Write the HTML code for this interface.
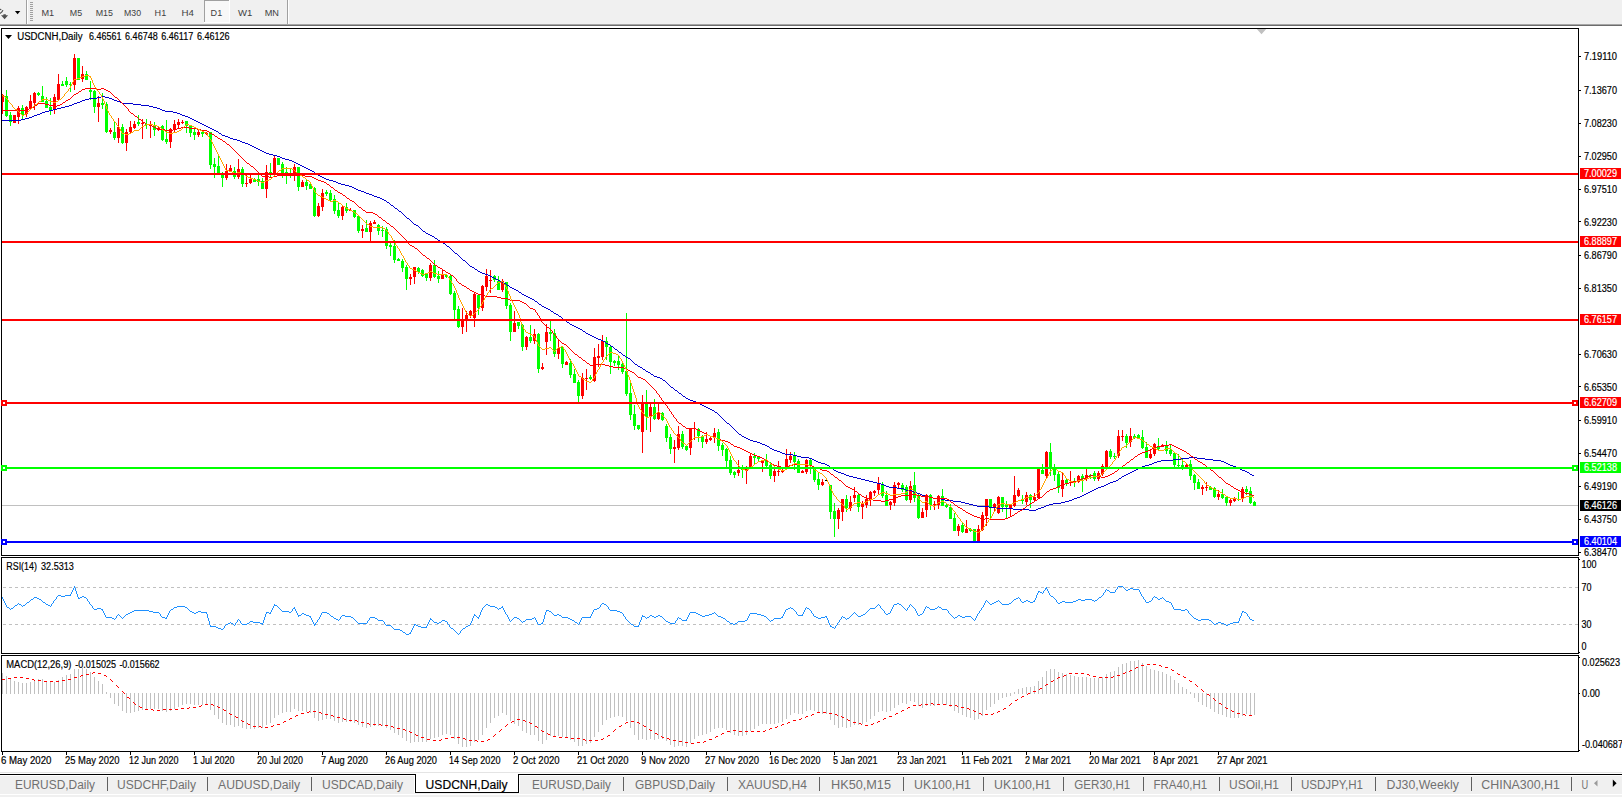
<!DOCTYPE html>
<html><head><meta charset="utf-8"><title>USDCNH,Daily</title>
<style>html,body{margin:0;padding:0;background:#fff;overflow:hidden}svg{display:block}text{font-family:"Liberation Sans",sans-serif}</style>
</head><body>
<svg width="1622" height="797" viewBox="0 0 1622 797">
<rect x="0" y="0" width="1622" height="797" fill="#ffffff" />
<rect x="0" y="0" width="1622" height="24" fill="#f0f0f0" />
<rect x="0" y="24" width="1622" height="1" fill="#a6a6a6" />
<rect x="0" y="25" width="1622" height="1" fill="#6c6c6c" />
<path d="M0 9.4 L1.3 9.7 M2.9 10.2 Q2.4 12.2 0 13.5" stroke="#505050" stroke-width="1.2" fill="none"/>
<path d="M1 15.3 L3.4 15.3 L3.4 14.2 L5.8 14.2 L5.8 15.3 L8.1 15.3 L4.6 19.3 Z" fill="#505050"/>
<path d="M14.9 11 L20.3 11 L17.6 14.2 Z" fill="#000"/>
<rect x="26" y="0" width="1" height="24" fill="#a0a0a0" />
<rect x="27" y="0" width="1" height="24" fill="#ffffff" />
<rect x="30" y="2" width="3" height="1" fill="#a0a0a0" />
<rect x="30" y="4" width="3" height="1" fill="#a0a0a0" />
<rect x="30" y="6" width="3" height="1" fill="#a0a0a0" />
<rect x="30" y="8" width="3" height="1" fill="#a0a0a0" />
<rect x="30" y="10" width="3" height="1" fill="#a0a0a0" />
<rect x="30" y="12" width="3" height="1" fill="#a0a0a0" />
<rect x="30" y="14" width="3" height="1" fill="#a0a0a0" />
<rect x="30" y="16" width="3" height="1" fill="#a0a0a0" />
<rect x="30" y="18" width="3" height="1" fill="#a0a0a0" />
<rect x="30" y="20" width="3" height="1" fill="#a0a0a0" />
<rect x="205" y="1" width="24" height="21" fill="#f8f8f8" />
<rect x="204" y="0" width="25" height="1" fill="#a0a0a0" />
<rect x="204" y="0" width="1" height="22" fill="#a0a0a0" />
<rect x="229" y="0" width="1" height="23" fill="#ffffff" />
<rect x="204" y="22" width="26" height="1" fill="#ffffff" />
<text x="41.4" y="15.9" font-size="9.3" fill="#404040" text-anchor="start" textLength="12.7" lengthAdjust="spacingAndGlyphs" >M1</text>
<text x="69.8" y="15.9" font-size="9.3" fill="#404040" text-anchor="start" textLength="12.3" lengthAdjust="spacingAndGlyphs" >M5</text>
<text x="95.7" y="15.9" font-size="9.3" fill="#404040" text-anchor="start" textLength="17.3" lengthAdjust="spacingAndGlyphs" >M15</text>
<text x="124" y="15.9" font-size="9.3" fill="#404040" text-anchor="start" textLength="17" lengthAdjust="spacingAndGlyphs" >M30</text>
<text x="154.6" y="15.9" font-size="9.3" fill="#404040" text-anchor="start" textLength="11.6" lengthAdjust="spacingAndGlyphs" >H1</text>
<text x="181.5" y="15.9" font-size="9.3" fill="#404040" text-anchor="start" textLength="12.4" lengthAdjust="spacingAndGlyphs" >H4</text>
<text x="210.6" y="15.9" font-size="9.3" fill="#404040" text-anchor="start" textLength="11.6" lengthAdjust="spacingAndGlyphs" >D1</text>
<text x="237.9" y="15.9" font-size="9.3" fill="#404040" text-anchor="start" textLength="14.3" lengthAdjust="spacingAndGlyphs" >W1</text>
<text x="264.7" y="15.9" font-size="9.3" fill="#404040" text-anchor="start" textLength="14.3" lengthAdjust="spacingAndGlyphs" >MN</text>
<rect x="287" y="0" width="1" height="24" fill="#a0a0a0" />
<rect x="288" y="0" width="1" height="24" fill="#ffffff" />
<rect x="1" y="28" width="1578" height="1" fill="#000" />
<rect x="1" y="555" width="1578" height="1" fill="#000" />
<rect x="1" y="28" width="1" height="528" fill="#000" />
<rect x="1578" y="28" width="1" height="528" fill="#000" />
<rect x="1" y="557" width="1578" height="1" fill="#000" />
<rect x="1" y="653" width="1578" height="1" fill="#000" />
<rect x="1" y="557" width="1" height="97" fill="#000" />
<rect x="1578" y="557" width="1" height="97" fill="#000" />
<rect x="1" y="655" width="1578" height="1" fill="#000" />
<rect x="1" y="751" width="1578" height="1" fill="#000" />
<rect x="1" y="655" width="1" height="97" fill="#000" />
<rect x="1578" y="655" width="1" height="97" fill="#000" />
<rect x="2" y="505" width="1576" height="1" fill="#c0c0c0" />
<clipPath id="cp"><rect x="2" y="29" width="1576" height="526"/></clipPath>
<g clip-path="url(#cp)" shape-rendering="crispEdges">
<rect x="2" y="94" width="1" height="20" fill="#ff0000" />
<rect x="1" y="95" width="3" height="7" fill="#ff0000" />
<rect x="6" y="90" width="1" height="27" fill="#00ff00" />
<rect x="5" y="96" width="3" height="20" fill="#00ff00" />
<rect x="10" y="112" width="1" height="14" fill="#00ff00" />
<rect x="9" y="115" width="3" height="7" fill="#00ff00" />
<rect x="14" y="115" width="1" height="8" fill="#ff0000" />
<rect x="13" y="115" width="3" height="8" fill="#ff0000" />
<rect x="18" y="106" width="1" height="18" fill="#ff0000" />
<rect x="17" y="108" width="3" height="9" fill="#ff0000" />
<rect x="22" y="105" width="1" height="15" fill="#00ff00" />
<rect x="21" y="108" width="3" height="7" fill="#00ff00" />
<rect x="26" y="106" width="1" height="11" fill="#ff0000" />
<rect x="25" y="107" width="3" height="7" fill="#ff0000" />
<rect x="30" y="95" width="1" height="14" fill="#ff0000" />
<rect x="29" y="101" width="3" height="7" fill="#ff0000" />
<rect x="34" y="92" width="1" height="18" fill="#ff0000" />
<rect x="33" y="93" width="3" height="10" fill="#ff0000" />
<rect x="38" y="92" width="1" height="4" fill="#00ff00" />
<rect x="37" y="93" width="3" height="2" fill="#00ff00" />
<rect x="42" y="86" width="1" height="16" fill="#00ff00" />
<rect x="41" y="96" width="3" height="6" fill="#00ff00" />
<rect x="46" y="97" width="1" height="11" fill="#00ff00" />
<rect x="45" y="101" width="3" height="7" fill="#00ff00" />
<rect x="50" y="98" width="1" height="17" fill="#00ff00" />
<rect x="49" y="107" width="3" height="4" fill="#00ff00" />
<rect x="54" y="94" width="1" height="20" fill="#ff0000" />
<rect x="53" y="97" width="3" height="13" fill="#ff0000" />
<rect x="58" y="74" width="1" height="26" fill="#ff0000" />
<rect x="57" y="84" width="3" height="16" fill="#ff0000" />
<rect x="62" y="81" width="1" height="5" fill="#00ff00" />
<rect x="61" y="84" width="3" height="2" fill="#00ff00" />
<rect x="66" y="77" width="1" height="10" fill="#00ff00" />
<rect x="65" y="81" width="3" height="4" fill="#00ff00" />
<rect x="70" y="82" width="1" height="10" fill="#00ff00" />
<rect x="69" y="84" width="3" height="1" fill="#00ff00" />
<rect x="74" y="54" width="1" height="36" fill="#ff0000" />
<rect x="73" y="58" width="3" height="27" fill="#ff0000" />
<rect x="78" y="58" width="1" height="22" fill="#00ff00" />
<rect x="77" y="58" width="3" height="22" fill="#00ff00" />
<rect x="82" y="66" width="1" height="16" fill="#ff0000" />
<rect x="81" y="74" width="3" height="5" fill="#ff0000" />
<rect x="86" y="71" width="1" height="9" fill="#00ff00" />
<rect x="85" y="74" width="3" height="6" fill="#00ff00" />
<rect x="90" y="81" width="1" height="19" fill="#00ff00" />
<rect x="89" y="90" width="3" height="2" fill="#00ff00" />
<rect x="94" y="90" width="1" height="23" fill="#00ff00" />
<rect x="93" y="91" width="3" height="16" fill="#00ff00" />
<rect x="98" y="96" width="1" height="26" fill="#ff0000" />
<rect x="97" y="103" width="3" height="4" fill="#ff0000" />
<rect x="102" y="93" width="1" height="16" fill="#00ff00" />
<rect x="101" y="103" width="3" height="2" fill="#00ff00" />
<rect x="106" y="102" width="1" height="31" fill="#00ff00" />
<rect x="105" y="104" width="3" height="28" fill="#00ff00" />
<rect x="110" y="128" width="1" height="6" fill="#ff0000" />
<rect x="109" y="130" width="3" height="2" fill="#ff0000" />
<rect x="114" y="122" width="1" height="18" fill="#00ff00" />
<rect x="113" y="132" width="3" height="6" fill="#00ff00" />
<rect x="118" y="118" width="1" height="25" fill="#ff0000" />
<rect x="117" y="127" width="3" height="11" fill="#ff0000" />
<rect x="122" y="124" width="1" height="20" fill="#00ff00" />
<rect x="121" y="127" width="3" height="16" fill="#00ff00" />
<rect x="126" y="129" width="1" height="22" fill="#ff0000" />
<rect x="125" y="132" width="3" height="11" fill="#ff0000" />
<rect x="130" y="121" width="1" height="12" fill="#ff0000" />
<rect x="129" y="127" width="3" height="5" fill="#ff0000" />
<rect x="134" y="121" width="1" height="8" fill="#ff0000" />
<rect x="133" y="124" width="3" height="4" fill="#ff0000" />
<rect x="138" y="115" width="1" height="11" fill="#00ff00" />
<rect x="137" y="122" width="3" height="2" fill="#00ff00" />
<rect x="142" y="119" width="1" height="20" fill="#ff0000" />
<rect x="141" y="123" width="3" height="1" fill="#ff0000" />
<rect x="146" y="119" width="1" height="10" fill="#00ff00" />
<rect x="145" y="124" width="3" height="1" fill="#00ff00" />
<rect x="150" y="121" width="1" height="17" fill="#ff0000" />
<rect x="149" y="125" width="3" height="1" fill="#ff0000" />
<rect x="154" y="122" width="1" height="14" fill="#00ff00" />
<rect x="153" y="125" width="3" height="5" fill="#00ff00" />
<rect x="158" y="127" width="1" height="4" fill="#ff0000" />
<rect x="157" y="128" width="3" height="2" fill="#ff0000" />
<rect x="162" y="125" width="1" height="16" fill="#00ff00" />
<rect x="161" y="126" width="3" height="14" fill="#00ff00" />
<rect x="166" y="120" width="1" height="24" fill="#00ff00" />
<rect x="165" y="139" width="3" height="3" fill="#00ff00" />
<rect x="170" y="128" width="1" height="20" fill="#ff0000" />
<rect x="169" y="129" width="3" height="13" fill="#ff0000" />
<rect x="174" y="120" width="1" height="12" fill="#ff0000" />
<rect x="173" y="124" width="3" height="6" fill="#ff0000" />
<rect x="178" y="119" width="1" height="9" fill="#ff0000" />
<rect x="177" y="122" width="3" height="3" fill="#ff0000" />
<rect x="182" y="120" width="1" height="4" fill="#ff0000" />
<rect x="181" y="122" width="3" height="1" fill="#ff0000" />
<rect x="186" y="121" width="1" height="12" fill="#00ff00" />
<rect x="185" y="121" width="3" height="5" fill="#00ff00" />
<rect x="190" y="126" width="1" height="11" fill="#00ff00" />
<rect x="189" y="126" width="3" height="7" fill="#00ff00" />
<rect x="194" y="129" width="1" height="11" fill="#00ff00" />
<rect x="193" y="132" width="3" height="3" fill="#00ff00" />
<rect x="198" y="130" width="1" height="7" fill="#ff0000" />
<rect x="197" y="132" width="3" height="3" fill="#ff0000" />
<rect x="202" y="130" width="1" height="7" fill="#00ff00" />
<rect x="201" y="132" width="3" height="2" fill="#00ff00" />
<rect x="206" y="132" width="1" height="3" fill="#ff0000" />
<rect x="205" y="133" width="3" height="1" fill="#ff0000" />
<rect x="210" y="132" width="1" height="37" fill="#00ff00" />
<rect x="209" y="132" width="3" height="33" fill="#00ff00" />
<rect x="214" y="158" width="1" height="20" fill="#00ff00" />
<rect x="213" y="164" width="3" height="3" fill="#00ff00" />
<rect x="218" y="156" width="1" height="19" fill="#00ff00" />
<rect x="217" y="166" width="3" height="7" fill="#00ff00" />
<rect x="222" y="172" width="1" height="15" fill="#00ff00" />
<rect x="221" y="175" width="3" height="3" fill="#00ff00" />
<rect x="226" y="164" width="1" height="16" fill="#ff0000" />
<rect x="225" y="171" width="3" height="7" fill="#ff0000" />
<rect x="230" y="165" width="1" height="7" fill="#ff0000" />
<rect x="229" y="168" width="3" height="3" fill="#ff0000" />
<rect x="234" y="167" width="1" height="12" fill="#00ff00" />
<rect x="233" y="171" width="3" height="6" fill="#00ff00" />
<rect x="238" y="159" width="1" height="20" fill="#ff0000" />
<rect x="237" y="169" width="3" height="8" fill="#ff0000" />
<rect x="242" y="167" width="1" height="20" fill="#00ff00" />
<rect x="241" y="169" width="3" height="15" fill="#00ff00" />
<rect x="246" y="175" width="1" height="12" fill="#ff0000" />
<rect x="245" y="183" width="3" height="1" fill="#ff0000" />
<rect x="250" y="175" width="1" height="9" fill="#ff0000" />
<rect x="249" y="179" width="3" height="4" fill="#ff0000" />
<rect x="254" y="178" width="1" height="4" fill="#00ff00" />
<rect x="253" y="180" width="3" height="2" fill="#00ff00" />
<rect x="258" y="175" width="1" height="11" fill="#00ff00" />
<rect x="257" y="179" width="3" height="3" fill="#00ff00" />
<rect x="262" y="178" width="1" height="11" fill="#00ff00" />
<rect x="261" y="181" width="3" height="8" fill="#00ff00" />
<rect x="266" y="165" width="1" height="33" fill="#ff0000" />
<rect x="265" y="172" width="3" height="17" fill="#ff0000" />
<rect x="270" y="163" width="1" height="15" fill="#00ff00" />
<rect x="269" y="172" width="3" height="3" fill="#00ff00" />
<rect x="274" y="156" width="1" height="19" fill="#ff0000" />
<rect x="273" y="158" width="3" height="15" fill="#ff0000" />
<rect x="278" y="158" width="1" height="7" fill="#00ff00" />
<rect x="277" y="158" width="3" height="7" fill="#00ff00" />
<rect x="282" y="162" width="1" height="16" fill="#00ff00" />
<rect x="281" y="164" width="3" height="9" fill="#00ff00" />
<rect x="286" y="167" width="1" height="17" fill="#00ff00" />
<rect x="285" y="172" width="3" height="2" fill="#00ff00" />
<rect x="290" y="169" width="1" height="9" fill="#00ff00" />
<rect x="289" y="173" width="3" height="2" fill="#00ff00" />
<rect x="294" y="164" width="1" height="17" fill="#ff0000" />
<rect x="293" y="167" width="3" height="6" fill="#ff0000" />
<rect x="298" y="167" width="1" height="24" fill="#00ff00" />
<rect x="297" y="167" width="3" height="20" fill="#00ff00" />
<rect x="302" y="180" width="1" height="7" fill="#ff0000" />
<rect x="301" y="182" width="3" height="5" fill="#ff0000" />
<rect x="306" y="179" width="1" height="11" fill="#00ff00" />
<rect x="305" y="182" width="3" height="4" fill="#00ff00" />
<rect x="310" y="183" width="1" height="6" fill="#00ff00" />
<rect x="309" y="184" width="3" height="5" fill="#00ff00" />
<rect x="314" y="187" width="1" height="30" fill="#00ff00" />
<rect x="313" y="188" width="3" height="28" fill="#00ff00" />
<rect x="318" y="203" width="1" height="14" fill="#ff0000" />
<rect x="317" y="206" width="3" height="10" fill="#ff0000" />
<rect x="322" y="189" width="1" height="22" fill="#ff0000" />
<rect x="321" y="193" width="3" height="14" fill="#ff0000" />
<rect x="326" y="190" width="1" height="6" fill="#00ff00" />
<rect x="325" y="192" width="3" height="2" fill="#00ff00" />
<rect x="330" y="190" width="1" height="11" fill="#00ff00" />
<rect x="329" y="193" width="3" height="7" fill="#00ff00" />
<rect x="334" y="195" width="1" height="19" fill="#00ff00" />
<rect x="333" y="199" width="3" height="12" fill="#00ff00" />
<rect x="338" y="203" width="1" height="15" fill="#00ff00" />
<rect x="337" y="210" width="3" height="6" fill="#00ff00" />
<rect x="342" y="206" width="1" height="14" fill="#ff0000" />
<rect x="341" y="207" width="3" height="9" fill="#ff0000" />
<rect x="346" y="203" width="1" height="10" fill="#00ff00" />
<rect x="345" y="207" width="3" height="4" fill="#00ff00" />
<rect x="350" y="208" width="1" height="3" fill="#ff0000" />
<rect x="349" y="210" width="3" height="1" fill="#ff0000" />
<rect x="354" y="210" width="1" height="8" fill="#00ff00" />
<rect x="353" y="210" width="3" height="7" fill="#00ff00" />
<rect x="358" y="216" width="1" height="17" fill="#00ff00" />
<rect x="357" y="216" width="3" height="15" fill="#00ff00" />
<rect x="362" y="225" width="1" height="13" fill="#ff0000" />
<rect x="361" y="229" width="3" height="2" fill="#ff0000" />
<rect x="366" y="220" width="1" height="12" fill="#00ff00" />
<rect x="365" y="228" width="3" height="4" fill="#00ff00" />
<rect x="370" y="221" width="1" height="21" fill="#ff0000" />
<rect x="369" y="223" width="3" height="9" fill="#ff0000" />
<rect x="374" y="220" width="1" height="4" fill="#ff0000" />
<rect x="373" y="222" width="3" height="2" fill="#ff0000" />
<rect x="378" y="224" width="1" height="11" fill="#00ff00" />
<rect x="377" y="225" width="3" height="6" fill="#00ff00" />
<rect x="382" y="226" width="1" height="11" fill="#00ff00" />
<rect x="381" y="230" width="3" height="1" fill="#00ff00" />
<rect x="386" y="227" width="1" height="22" fill="#00ff00" />
<rect x="385" y="229" width="3" height="17" fill="#00ff00" />
<rect x="390" y="243" width="1" height="13" fill="#00ff00" />
<rect x="389" y="245" width="3" height="2" fill="#00ff00" />
<rect x="394" y="240" width="1" height="23" fill="#00ff00" />
<rect x="393" y="246" width="3" height="14" fill="#00ff00" />
<rect x="398" y="258" width="1" height="3" fill="#00ff00" />
<rect x="397" y="259" width="3" height="2" fill="#00ff00" />
<rect x="402" y="259" width="1" height="13" fill="#00ff00" />
<rect x="401" y="261" width="3" height="7" fill="#00ff00" />
<rect x="406" y="265" width="1" height="25" fill="#00ff00" />
<rect x="405" y="267" width="3" height="12" fill="#00ff00" />
<rect x="410" y="274" width="1" height="11" fill="#ff0000" />
<rect x="409" y="277" width="3" height="2" fill="#ff0000" />
<rect x="414" y="267" width="1" height="17" fill="#ff0000" />
<rect x="413" y="267" width="3" height="10" fill="#ff0000" />
<rect x="418" y="267" width="1" height="7" fill="#00ff00" />
<rect x="417" y="268" width="3" height="4" fill="#00ff00" />
<rect x="422" y="269" width="1" height="8" fill="#00ff00" />
<rect x="421" y="270" width="3" height="6" fill="#00ff00" />
<rect x="426" y="273" width="1" height="8" fill="#00ff00" />
<rect x="425" y="274" width="3" height="4" fill="#00ff00" />
<rect x="430" y="263" width="1" height="18" fill="#ff0000" />
<rect x="429" y="265" width="3" height="13" fill="#ff0000" />
<rect x="434" y="260" width="1" height="18" fill="#00ff00" />
<rect x="433" y="265" width="3" height="12" fill="#00ff00" />
<rect x="438" y="271" width="1" height="12" fill="#00ff00" />
<rect x="437" y="276" width="3" height="3" fill="#00ff00" />
<rect x="442" y="269" width="1" height="10" fill="#ff0000" />
<rect x="441" y="275" width="3" height="4" fill="#ff0000" />
<rect x="446" y="275" width="1" height="3" fill="#00ff00" />
<rect x="445" y="275" width="3" height="2" fill="#00ff00" />
<rect x="450" y="275" width="1" height="20" fill="#00ff00" />
<rect x="449" y="276" width="3" height="18" fill="#00ff00" />
<rect x="454" y="291" width="1" height="29" fill="#00ff00" />
<rect x="453" y="293" width="3" height="17" fill="#00ff00" />
<rect x="458" y="306" width="1" height="22" fill="#00ff00" />
<rect x="457" y="309" width="3" height="18" fill="#00ff00" />
<rect x="462" y="308" width="1" height="26" fill="#ff0000" />
<rect x="461" y="319" width="3" height="8" fill="#ff0000" />
<rect x="466" y="311" width="1" height="21" fill="#ff0000" />
<rect x="465" y="315" width="3" height="6" fill="#ff0000" />
<rect x="470" y="310" width="1" height="8" fill="#ff0000" />
<rect x="469" y="311" width="3" height="4" fill="#ff0000" />
<rect x="474" y="292" width="1" height="35" fill="#ff0000" />
<rect x="473" y="294" width="3" height="24" fill="#ff0000" />
<rect x="478" y="294" width="1" height="21" fill="#00ff00" />
<rect x="477" y="295" width="3" height="13" fill="#00ff00" />
<rect x="482" y="285" width="1" height="26" fill="#ff0000" />
<rect x="481" y="286" width="3" height="22" fill="#ff0000" />
<rect x="486" y="269" width="1" height="22" fill="#ff0000" />
<rect x="485" y="276" width="3" height="11" fill="#ff0000" />
<rect x="490" y="270" width="1" height="23" fill="#ff0000" />
<rect x="489" y="280" width="3" height="1" fill="#ff0000" />
<rect x="494" y="275" width="1" height="7" fill="#00ff00" />
<rect x="493" y="276" width="3" height="4" fill="#00ff00" />
<rect x="498" y="276" width="1" height="14" fill="#00ff00" />
<rect x="497" y="281" width="3" height="9" fill="#00ff00" />
<rect x="502" y="279" width="1" height="13" fill="#ff0000" />
<rect x="501" y="281" width="3" height="9" fill="#ff0000" />
<rect x="506" y="282" width="1" height="27" fill="#00ff00" />
<rect x="505" y="282" width="3" height="24" fill="#00ff00" />
<rect x="510" y="303" width="1" height="38" fill="#00ff00" />
<rect x="509" y="305" width="3" height="27" fill="#00ff00" />
<rect x="514" y="311" width="1" height="21" fill="#ff0000" />
<rect x="513" y="323" width="3" height="9" fill="#ff0000" />
<rect x="518" y="322" width="1" height="7" fill="#00ff00" />
<rect x="517" y="322" width="3" height="4" fill="#00ff00" />
<rect x="522" y="324" width="1" height="27" fill="#00ff00" />
<rect x="521" y="325" width="3" height="22" fill="#00ff00" />
<rect x="526" y="336" width="1" height="14" fill="#ff0000" />
<rect x="525" y="337" width="3" height="10" fill="#ff0000" />
<rect x="530" y="325" width="1" height="18" fill="#00ff00" />
<rect x="529" y="337" width="3" height="4" fill="#00ff00" />
<rect x="534" y="329" width="1" height="15" fill="#ff0000" />
<rect x="533" y="334" width="3" height="7" fill="#ff0000" />
<rect x="538" y="333" width="1" height="40" fill="#00ff00" />
<rect x="537" y="334" width="3" height="35" fill="#00ff00" />
<rect x="542" y="363" width="1" height="7" fill="#ff0000" />
<rect x="541" y="367" width="3" height="2" fill="#ff0000" />
<rect x="546" y="324" width="1" height="31" fill="#ff0000" />
<rect x="545" y="332" width="3" height="10" fill="#ff0000" />
<rect x="550" y="321" width="1" height="20" fill="#00ff00" />
<rect x="549" y="332" width="3" height="2" fill="#00ff00" />
<rect x="554" y="329" width="1" height="28" fill="#00ff00" />
<rect x="553" y="333" width="3" height="21" fill="#00ff00" />
<rect x="558" y="339" width="1" height="20" fill="#ff0000" />
<rect x="557" y="348" width="3" height="6" fill="#ff0000" />
<rect x="562" y="347" width="1" height="21" fill="#00ff00" />
<rect x="561" y="347" width="3" height="17" fill="#00ff00" />
<rect x="566" y="361" width="1" height="4" fill="#ff0000" />
<rect x="565" y="362" width="3" height="3" fill="#ff0000" />
<rect x="570" y="359" width="1" height="19" fill="#00ff00" />
<rect x="569" y="363" width="3" height="12" fill="#00ff00" />
<rect x="574" y="369" width="1" height="14" fill="#00ff00" />
<rect x="573" y="374" width="3" height="9" fill="#00ff00" />
<rect x="578" y="380" width="1" height="22" fill="#00ff00" />
<rect x="577" y="382" width="3" height="14" fill="#00ff00" />
<rect x="582" y="373" width="1" height="26" fill="#ff0000" />
<rect x="581" y="378" width="3" height="18" fill="#ff0000" />
<rect x="586" y="369" width="1" height="21" fill="#ff0000" />
<rect x="585" y="378" width="3" height="1" fill="#ff0000" />
<rect x="590" y="375" width="1" height="5" fill="#00ff00" />
<rect x="589" y="377" width="3" height="2" fill="#00ff00" />
<rect x="594" y="348" width="1" height="34" fill="#ff0000" />
<rect x="593" y="357" width="3" height="24" fill="#ff0000" />
<rect x="598" y="344" width="1" height="23" fill="#ff0000" />
<rect x="597" y="356" width="3" height="2" fill="#ff0000" />
<rect x="602" y="335" width="1" height="25" fill="#ff0000" />
<rect x="601" y="341" width="3" height="16" fill="#ff0000" />
<rect x="606" y="337" width="1" height="23" fill="#00ff00" />
<rect x="605" y="341" width="3" height="6" fill="#00ff00" />
<rect x="610" y="346" width="1" height="28" fill="#00ff00" />
<rect x="609" y="347" width="3" height="15" fill="#00ff00" />
<rect x="614" y="360" width="1" height="6" fill="#00ff00" />
<rect x="613" y="361" width="3" height="2" fill="#00ff00" />
<rect x="618" y="356" width="1" height="14" fill="#00ff00" />
<rect x="617" y="361" width="3" height="4" fill="#00ff00" />
<rect x="622" y="363" width="1" height="11" fill="#00ff00" />
<rect x="621" y="364" width="3" height="8" fill="#00ff00" />
<rect x="626" y="313" width="1" height="83" fill="#00ff00" />
<rect x="625" y="371" width="3" height="23" fill="#00ff00" />
<rect x="630" y="383" width="1" height="37" fill="#00ff00" />
<rect x="629" y="393" width="3" height="22" fill="#00ff00" />
<rect x="634" y="405" width="1" height="25" fill="#00ff00" />
<rect x="633" y="414" width="3" height="12" fill="#00ff00" />
<rect x="638" y="425" width="1" height="5" fill="#00ff00" />
<rect x="637" y="425" width="3" height="4" fill="#00ff00" />
<rect x="642" y="395" width="1" height="58" fill="#ff0000" />
<rect x="641" y="402" width="3" height="30" fill="#ff0000" />
<rect x="646" y="390" width="1" height="40" fill="#00ff00" />
<rect x="645" y="404" width="3" height="13" fill="#00ff00" />
<rect x="650" y="404" width="1" height="28" fill="#ff0000" />
<rect x="649" y="407" width="3" height="9" fill="#ff0000" />
<rect x="654" y="399" width="1" height="21" fill="#00ff00" />
<rect x="653" y="407" width="3" height="12" fill="#00ff00" />
<rect x="658" y="404" width="1" height="16" fill="#ff0000" />
<rect x="657" y="413" width="3" height="6" fill="#ff0000" />
<rect x="662" y="412" width="1" height="9" fill="#00ff00" />
<rect x="661" y="413" width="3" height="7" fill="#00ff00" />
<rect x="666" y="424" width="1" height="18" fill="#00ff00" />
<rect x="665" y="426" width="3" height="12" fill="#00ff00" />
<rect x="670" y="434" width="1" height="20" fill="#00ff00" />
<rect x="669" y="437" width="3" height="12" fill="#00ff00" />
<rect x="674" y="440" width="1" height="23" fill="#ff0000" />
<rect x="673" y="447" width="3" height="2" fill="#ff0000" />
<rect x="678" y="426" width="1" height="24" fill="#ff0000" />
<rect x="677" y="434" width="3" height="14" fill="#ff0000" />
<rect x="682" y="431" width="1" height="18" fill="#00ff00" />
<rect x="681" y="434" width="3" height="13" fill="#00ff00" />
<rect x="686" y="445" width="1" height="6" fill="#00ff00" />
<rect x="685" y="446" width="3" height="4" fill="#00ff00" />
<rect x="690" y="428" width="1" height="27" fill="#ff0000" />
<rect x="689" y="429" width="3" height="19" fill="#ff0000" />
<rect x="694" y="422" width="1" height="18" fill="#ff0000" />
<rect x="693" y="428" width="3" height="1" fill="#ff0000" />
<rect x="698" y="428" width="1" height="14" fill="#00ff00" />
<rect x="697" y="429" width="3" height="7" fill="#00ff00" />
<rect x="702" y="435" width="1" height="13" fill="#00ff00" />
<rect x="701" y="436" width="3" height="6" fill="#00ff00" />
<rect x="706" y="432" width="1" height="12" fill="#ff0000" />
<rect x="705" y="439" width="3" height="3" fill="#ff0000" />
<rect x="710" y="437" width="1" height="4" fill="#ff0000" />
<rect x="709" y="438" width="3" height="2" fill="#ff0000" />
<rect x="714" y="428" width="1" height="15" fill="#ff0000" />
<rect x="713" y="433" width="3" height="4" fill="#ff0000" />
<rect x="718" y="429" width="1" height="22" fill="#00ff00" />
<rect x="717" y="432" width="3" height="14" fill="#00ff00" />
<rect x="722" y="443" width="1" height="13" fill="#00ff00" />
<rect x="721" y="445" width="3" height="5" fill="#00ff00" />
<rect x="726" y="448" width="1" height="20" fill="#00ff00" />
<rect x="725" y="449" width="3" height="12" fill="#00ff00" />
<rect x="730" y="456" width="1" height="19" fill="#00ff00" />
<rect x="729" y="460" width="3" height="13" fill="#00ff00" />
<rect x="734" y="471" width="1" height="7" fill="#00ff00" />
<rect x="733" y="472" width="3" height="3" fill="#00ff00" />
<rect x="738" y="460" width="1" height="16" fill="#ff0000" />
<rect x="737" y="470" width="3" height="3" fill="#ff0000" />
<rect x="742" y="465" width="1" height="13" fill="#00ff00" />
<rect x="741" y="469" width="3" height="1" fill="#00ff00" />
<rect x="746" y="466" width="1" height="18" fill="#ff0000" />
<rect x="745" y="467" width="3" height="4" fill="#ff0000" />
<rect x="750" y="454" width="1" height="14" fill="#ff0000" />
<rect x="749" y="456" width="3" height="11" fill="#ff0000" />
<rect x="754" y="453" width="1" height="12" fill="#00ff00" />
<rect x="753" y="456" width="3" height="2" fill="#00ff00" />
<rect x="758" y="456" width="1" height="6" fill="#00ff00" />
<rect x="757" y="457" width="3" height="2" fill="#00ff00" />
<rect x="762" y="460" width="1" height="12" fill="#ff0000" />
<rect x="761" y="461" width="3" height="2" fill="#ff0000" />
<rect x="766" y="454" width="1" height="14" fill="#00ff00" />
<rect x="765" y="460" width="3" height="6" fill="#00ff00" />
<rect x="770" y="462" width="1" height="17" fill="#00ff00" />
<rect x="769" y="465" width="3" height="11" fill="#00ff00" />
<rect x="774" y="469" width="1" height="13" fill="#ff0000" />
<rect x="773" y="471" width="3" height="5" fill="#ff0000" />
<rect x="778" y="461" width="1" height="15" fill="#ff0000" />
<rect x="777" y="471" width="3" height="1" fill="#ff0000" />
<rect x="782" y="469" width="1" height="4" fill="#ff0000" />
<rect x="781" y="470" width="3" height="2" fill="#ff0000" />
<rect x="786" y="449" width="1" height="19" fill="#ff0000" />
<rect x="785" y="459" width="3" height="8" fill="#ff0000" />
<rect x="790" y="452" width="1" height="11" fill="#ff0000" />
<rect x="789" y="456" width="3" height="4" fill="#ff0000" />
<rect x="794" y="452" width="1" height="18" fill="#00ff00" />
<rect x="793" y="456" width="3" height="6" fill="#00ff00" />
<rect x="798" y="459" width="1" height="14" fill="#00ff00" />
<rect x="797" y="461" width="3" height="12" fill="#00ff00" />
<rect x="802" y="470" width="1" height="3" fill="#ff0000" />
<rect x="801" y="471" width="3" height="2" fill="#ff0000" />
<rect x="806" y="459" width="1" height="15" fill="#ff0000" />
<rect x="805" y="460" width="3" height="12" fill="#ff0000" />
<rect x="810" y="458" width="1" height="16" fill="#00ff00" />
<rect x="809" y="460" width="3" height="5" fill="#00ff00" />
<rect x="814" y="469" width="1" height="13" fill="#00ff00" />
<rect x="813" y="469" width="3" height="11" fill="#00ff00" />
<rect x="818" y="472" width="1" height="18" fill="#00ff00" />
<rect x="817" y="479" width="3" height="6" fill="#00ff00" />
<rect x="822" y="479" width="1" height="7" fill="#ff0000" />
<rect x="821" y="482" width="3" height="3" fill="#ff0000" />
<rect x="826" y="480" width="1" height="1" fill="#000000" />
<rect x="825" y="480" width="3" height="1" fill="#000000" />
<rect x="830" y="485" width="1" height="34" fill="#00ff00" />
<rect x="829" y="485" width="3" height="27" fill="#00ff00" />
<rect x="834" y="503" width="1" height="34" fill="#00ff00" />
<rect x="833" y="511" width="3" height="8" fill="#00ff00" />
<rect x="838" y="508" width="1" height="21" fill="#ff0000" />
<rect x="837" y="510" width="3" height="9" fill="#ff0000" />
<rect x="842" y="499" width="1" height="22" fill="#ff0000" />
<rect x="841" y="499" width="3" height="13" fill="#ff0000" />
<rect x="846" y="495" width="1" height="17" fill="#00ff00" />
<rect x="845" y="499" width="3" height="9" fill="#00ff00" />
<rect x="850" y="496" width="1" height="15" fill="#ff0000" />
<rect x="849" y="502" width="3" height="6" fill="#ff0000" />
<rect x="854" y="487" width="1" height="15" fill="#ff0000" />
<rect x="853" y="495" width="3" height="3" fill="#ff0000" />
<rect x="858" y="493" width="1" height="19" fill="#00ff00" />
<rect x="857" y="495" width="3" height="12" fill="#00ff00" />
<rect x="862" y="501" width="1" height="18" fill="#ff0000" />
<rect x="861" y="504" width="3" height="3" fill="#ff0000" />
<rect x="866" y="495" width="1" height="13" fill="#ff0000" />
<rect x="865" y="499" width="3" height="6" fill="#ff0000" />
<rect x="870" y="491" width="1" height="15" fill="#ff0000" />
<rect x="869" y="492" width="3" height="7" fill="#ff0000" />
<rect x="874" y="490" width="1" height="6" fill="#ff0000" />
<rect x="873" y="491" width="3" height="2" fill="#ff0000" />
<rect x="878" y="477" width="1" height="17" fill="#ff0000" />
<rect x="877" y="484" width="3" height="6" fill="#ff0000" />
<rect x="882" y="482" width="1" height="16" fill="#00ff00" />
<rect x="881" y="484" width="3" height="12" fill="#00ff00" />
<rect x="886" y="491" width="1" height="15" fill="#00ff00" />
<rect x="885" y="495" width="3" height="11" fill="#00ff00" />
<rect x="890" y="501" width="1" height="9" fill="#ff0000" />
<rect x="889" y="502" width="3" height="3" fill="#ff0000" />
<rect x="894" y="482" width="1" height="24" fill="#ff0000" />
<rect x="893" y="485" width="3" height="18" fill="#ff0000" />
<rect x="898" y="482" width="1" height="6" fill="#ff0000" />
<rect x="897" y="483" width="3" height="2" fill="#ff0000" />
<rect x="902" y="483" width="1" height="9" fill="#00ff00" />
<rect x="901" y="485" width="3" height="5" fill="#00ff00" />
<rect x="906" y="485" width="1" height="16" fill="#00ff00" />
<rect x="905" y="487" width="3" height="13" fill="#00ff00" />
<rect x="910" y="481" width="1" height="22" fill="#ff0000" />
<rect x="909" y="486" width="3" height="14" fill="#ff0000" />
<rect x="914" y="472" width="1" height="30" fill="#00ff00" />
<rect x="913" y="485" width="3" height="13" fill="#00ff00" />
<rect x="918" y="493" width="1" height="26" fill="#00ff00" />
<rect x="917" y="495" width="3" height="23" fill="#00ff00" />
<rect x="922" y="508" width="1" height="10" fill="#ff0000" />
<rect x="921" y="512" width="3" height="6" fill="#ff0000" />
<rect x="926" y="494" width="1" height="23" fill="#ff0000" />
<rect x="925" y="495" width="3" height="15" fill="#ff0000" />
<rect x="930" y="494" width="1" height="16" fill="#00ff00" />
<rect x="929" y="495" width="3" height="10" fill="#00ff00" />
<rect x="934" y="501" width="1" height="9" fill="#ff0000" />
<rect x="933" y="504" width="3" height="1" fill="#ff0000" />
<rect x="938" y="495" width="1" height="14" fill="#ff0000" />
<rect x="937" y="496" width="3" height="9" fill="#ff0000" />
<rect x="942" y="489" width="1" height="17" fill="#00ff00" />
<rect x="941" y="496" width="3" height="10" fill="#00ff00" />
<rect x="946" y="504" width="1" height="4" fill="#00ff00" />
<rect x="945" y="505" width="3" height="2" fill="#00ff00" />
<rect x="950" y="504" width="1" height="15" fill="#00ff00" />
<rect x="949" y="507" width="3" height="12" fill="#00ff00" />
<rect x="954" y="513" width="1" height="18" fill="#00ff00" />
<rect x="953" y="518" width="3" height="13" fill="#00ff00" />
<rect x="958" y="524" width="1" height="12" fill="#ff0000" />
<rect x="957" y="526" width="3" height="5" fill="#ff0000" />
<rect x="962" y="523" width="1" height="10" fill="#00ff00" />
<rect x="961" y="525" width="3" height="7" fill="#00ff00" />
<rect x="966" y="520" width="1" height="13" fill="#ff0000" />
<rect x="965" y="529" width="3" height="4" fill="#ff0000" />
<rect x="970" y="528" width="1" height="4" fill="#00ff00" />
<rect x="969" y="529" width="3" height="2" fill="#00ff00" />
<rect x="974" y="529" width="1" height="14" fill="#00ff00" />
<rect x="973" y="529" width="3" height="12" fill="#00ff00" />
<rect x="978" y="525" width="1" height="16" fill="#ff0000" />
<rect x="977" y="529" width="3" height="12" fill="#ff0000" />
<rect x="982" y="512" width="1" height="19" fill="#ff0000" />
<rect x="981" y="515" width="3" height="15" fill="#ff0000" />
<rect x="986" y="499" width="1" height="27" fill="#ff0000" />
<rect x="985" y="499" width="3" height="17" fill="#ff0000" />
<rect x="990" y="499" width="1" height="19" fill="#00ff00" />
<rect x="989" y="499" width="3" height="9" fill="#00ff00" />
<rect x="994" y="503" width="1" height="8" fill="#ff0000" />
<rect x="993" y="504" width="3" height="4" fill="#ff0000" />
<rect x="998" y="496" width="1" height="18" fill="#ff0000" />
<rect x="997" y="497" width="3" height="16" fill="#ff0000" />
<rect x="1002" y="497" width="1" height="15" fill="#00ff00" />
<rect x="1001" y="497" width="3" height="10" fill="#00ff00" />
<rect x="1006" y="501" width="1" height="17" fill="#00ff00" />
<rect x="1005" y="505" width="3" height="2" fill="#00ff00" />
<rect x="1010" y="505" width="1" height="11" fill="#ff0000" />
<rect x="1009" y="505" width="3" height="4" fill="#ff0000" />
<rect x="1014" y="476" width="1" height="31" fill="#ff0000" />
<rect x="1013" y="495" width="3" height="11" fill="#ff0000" />
<rect x="1018" y="488" width="1" height="9" fill="#ff0000" />
<rect x="1017" y="490" width="3" height="6" fill="#ff0000" />
<rect x="1022" y="495" width="1" height="9" fill="#00ff00" />
<rect x="1021" y="499" width="3" height="2" fill="#00ff00" />
<rect x="1026" y="492" width="1" height="13" fill="#ff0000" />
<rect x="1025" y="495" width="3" height="7" fill="#ff0000" />
<rect x="1030" y="494" width="1" height="14" fill="#00ff00" />
<rect x="1029" y="495" width="3" height="5" fill="#00ff00" />
<rect x="1034" y="493" width="1" height="9" fill="#ff0000" />
<rect x="1033" y="497" width="3" height="3" fill="#ff0000" />
<rect x="1038" y="467" width="1" height="32" fill="#ff0000" />
<rect x="1037" y="468" width="3" height="30" fill="#ff0000" />
<rect x="1042" y="464" width="1" height="10" fill="#00ff00" />
<rect x="1041" y="470" width="3" height="4" fill="#00ff00" />
<rect x="1046" y="451" width="1" height="27" fill="#ff0000" />
<rect x="1045" y="452" width="3" height="24" fill="#ff0000" />
<rect x="1050" y="443" width="1" height="33" fill="#00ff00" />
<rect x="1049" y="452" width="3" height="16" fill="#00ff00" />
<rect x="1054" y="464" width="1" height="17" fill="#00ff00" />
<rect x="1053" y="469" width="3" height="6" fill="#00ff00" />
<rect x="1058" y="472" width="1" height="21" fill="#00ff00" />
<rect x="1057" y="474" width="3" height="14" fill="#00ff00" />
<rect x="1062" y="473" width="1" height="24" fill="#ff0000" />
<rect x="1061" y="480" width="3" height="9" fill="#ff0000" />
<rect x="1066" y="479" width="1" height="7" fill="#00ff00" />
<rect x="1065" y="480" width="3" height="3" fill="#00ff00" />
<rect x="1070" y="471" width="1" height="15" fill="#ff0000" />
<rect x="1069" y="482" width="3" height="1" fill="#ff0000" />
<rect x="1074" y="478" width="1" height="9" fill="#00ff00" />
<rect x="1073" y="481" width="3" height="1" fill="#00ff00" />
<rect x="1078" y="475" width="1" height="8" fill="#ff0000" />
<rect x="1077" y="476" width="3" height="6" fill="#ff0000" />
<rect x="1082" y="474" width="1" height="18" fill="#00ff00" />
<rect x="1081" y="476" width="3" height="3" fill="#00ff00" />
<rect x="1086" y="469" width="1" height="12" fill="#ff0000" />
<rect x="1085" y="475" width="3" height="4" fill="#ff0000" />
<rect x="1090" y="474" width="1" height="5" fill="#00ff00" />
<rect x="1089" y="475" width="3" height="1" fill="#00ff00" />
<rect x="1094" y="471" width="1" height="10" fill="#00ff00" />
<rect x="1093" y="473" width="3" height="6" fill="#00ff00" />
<rect x="1098" y="471" width="1" height="10" fill="#ff0000" />
<rect x="1097" y="473" width="3" height="6" fill="#ff0000" />
<rect x="1102" y="464" width="1" height="12" fill="#ff0000" />
<rect x="1101" y="466" width="3" height="8" fill="#ff0000" />
<rect x="1106" y="450" width="1" height="17" fill="#ff0000" />
<rect x="1105" y="451" width="3" height="16" fill="#ff0000" />
<rect x="1110" y="449" width="1" height="10" fill="#00ff00" />
<rect x="1109" y="451" width="3" height="6" fill="#00ff00" />
<rect x="1114" y="453" width="1" height="6" fill="#00ff00" />
<rect x="1113" y="456" width="3" height="1" fill="#00ff00" />
<rect x="1118" y="430" width="1" height="28" fill="#ff0000" />
<rect x="1117" y="436" width="3" height="20" fill="#ff0000" />
<rect x="1122" y="430" width="1" height="11" fill="#ff0000" />
<rect x="1121" y="436" width="3" height="1" fill="#ff0000" />
<rect x="1126" y="434" width="1" height="14" fill="#00ff00" />
<rect x="1125" y="436" width="3" height="7" fill="#00ff00" />
<rect x="1130" y="428" width="1" height="19" fill="#ff0000" />
<rect x="1129" y="436" width="3" height="6" fill="#ff0000" />
<rect x="1134" y="434" width="1" height="5" fill="#00ff00" />
<rect x="1133" y="436" width="3" height="2" fill="#00ff00" />
<rect x="1138" y="434" width="1" height="5" fill="#00ff00" />
<rect x="1137" y="435" width="3" height="3" fill="#00ff00" />
<rect x="1142" y="430" width="1" height="19" fill="#00ff00" />
<rect x="1141" y="437" width="3" height="11" fill="#00ff00" />
<rect x="1146" y="442" width="1" height="16" fill="#00ff00" />
<rect x="1145" y="447" width="3" height="11" fill="#00ff00" />
<rect x="1150" y="449" width="1" height="10" fill="#ff0000" />
<rect x="1149" y="454" width="3" height="4" fill="#ff0000" />
<rect x="1154" y="443" width="1" height="13" fill="#ff0000" />
<rect x="1153" y="444" width="3" height="10" fill="#ff0000" />
<rect x="1158" y="438" width="1" height="13" fill="#00ff00" />
<rect x="1157" y="446" width="3" height="3" fill="#00ff00" />
<rect x="1162" y="444" width="1" height="3" fill="#ff0000" />
<rect x="1161" y="445" width="3" height="2" fill="#ff0000" />
<rect x="1166" y="441" width="1" height="13" fill="#00ff00" />
<rect x="1165" y="445" width="3" height="6" fill="#00ff00" />
<rect x="1170" y="445" width="1" height="11" fill="#00ff00" />
<rect x="1169" y="450" width="3" height="4" fill="#00ff00" />
<rect x="1174" y="453" width="1" height="14" fill="#00ff00" />
<rect x="1173" y="453" width="3" height="12" fill="#00ff00" />
<rect x="1178" y="454" width="1" height="13" fill="#00ff00" />
<rect x="1177" y="465" width="3" height="1" fill="#00ff00" />
<rect x="1182" y="459" width="1" height="11" fill="#00ff00" />
<rect x="1181" y="465" width="3" height="3" fill="#00ff00" />
<rect x="1186" y="463" width="1" height="4" fill="#ff0000" />
<rect x="1185" y="465" width="3" height="2" fill="#ff0000" />
<rect x="1190" y="460" width="1" height="20" fill="#00ff00" />
<rect x="1189" y="464" width="3" height="12" fill="#00ff00" />
<rect x="1194" y="474" width="1" height="16" fill="#00ff00" />
<rect x="1193" y="475" width="3" height="8" fill="#00ff00" />
<rect x="1198" y="479" width="1" height="10" fill="#00ff00" />
<rect x="1197" y="482" width="3" height="7" fill="#00ff00" />
<rect x="1202" y="485" width="1" height="10" fill="#ff0000" />
<rect x="1201" y="487" width="3" height="2" fill="#ff0000" />
<rect x="1206" y="482" width="1" height="9" fill="#ff0000" />
<rect x="1205" y="487" width="3" height="1" fill="#ff0000" />
<rect x="1210" y="486" width="1" height="4" fill="#00ff00" />
<rect x="1209" y="487" width="3" height="3" fill="#00ff00" />
<rect x="1214" y="487" width="1" height="11" fill="#00ff00" />
<rect x="1213" y="488" width="3" height="9" fill="#00ff00" />
<rect x="1218" y="490" width="1" height="10" fill="#ff0000" />
<rect x="1217" y="494" width="3" height="3" fill="#ff0000" />
<rect x="1222" y="489" width="1" height="10" fill="#00ff00" />
<rect x="1221" y="494" width="3" height="4" fill="#00ff00" />
<rect x="1226" y="497" width="1" height="9" fill="#00ff00" />
<rect x="1225" y="497" width="3" height="6" fill="#00ff00" />
<rect x="1230" y="499" width="1" height="7" fill="#ff0000" />
<rect x="1229" y="500" width="3" height="3" fill="#ff0000" />
<rect x="1234" y="497" width="1" height="5" fill="#ff0000" />
<rect x="1233" y="499" width="3" height="2" fill="#ff0000" />
<rect x="1238" y="492" width="1" height="9" fill="#00ff00" />
<rect x="1237" y="499" width="3" height="1" fill="#00ff00" />
<rect x="1242" y="487" width="1" height="15" fill="#ff0000" />
<rect x="1241" y="489" width="3" height="9" fill="#ff0000" />
<rect x="1246" y="486" width="1" height="9" fill="#00ff00" />
<rect x="1245" y="489" width="3" height="3" fill="#00ff00" />
<rect x="1250" y="487" width="1" height="17" fill="#00ff00" />
<rect x="1249" y="491" width="3" height="12" fill="#00ff00" />
<rect x="1254" y="501" width="1" height="5" fill="#00ff00" />
<rect x="1253" y="502" width="3" height="4" fill="#00ff00" />
</g>
<g clip-path="url(#cp)">
<path d="M101 96.5h4M97 97.5h4M105 97.5h4M89 98.5h8M109 98.5h3M85 99.5h4M112 99.5h2M82 100.5h3M114 100.5h3M80 101.5h2M117 101.5h3M77 102.5h3M120 102.5h2M74 103.5h3M122 103.5h11M72 104.5h2M133 104.5h8M69 105.5h3M141 105.5h8M65 106.5h4M149 106.5h4M61 107.5h4M153 107.5h4M57 108.5h4M157 108.5h3M53 109.5h4M160 109.5h2M49 110.5h4M162 110.5h3M45 111.5h4M165 111.5h8M42 112.5h3M173 112.5h4M40 113.5h2M177 113.5h3M37 114.5h3M180 114.5h2M34 115.5h3M182 115.5h3M32 116.5h2M185 116.5h3M29 117.5h3M188 117.5h2M25 118.5h4M190 118.5h2M21 119.5h4M192 119.5h2M2 120.5h19M194 120.5h2M196 121.5h2M198 122.5h2M200 123.5h2M202 124.5h2M204 125.5h2M206 126.5h2M208 127.5h2M210 128.5h2M212 129.5h2M214 130.5h2M216 131.5h2M219 133.5h2M222 135.5h3M225 136.5h3M228 137.5h2M230 138.5h3M233 139.5h4M237 140.5h3M240 141.5h2M242 142.5h3M245 143.5h3M248 144.5h2M250 145.5h2M252 146.5h2M254 147.5h2M256 148.5h2M258 149.5h2M260 150.5h2M262 151.5h2M264 152.5h2M266 153.5h3M269 154.5h4M273 155.5h4M277 156.5h3M280 157.5h2M282 158.5h3M285 159.5h4M289 160.5h3M292 161.5h2M294 162.5h2M296 163.5h2M298 164.5h2M300 165.5h2M302 166.5h2M304 167.5h2M306 168.5h2M308 169.5h2M310 170.5h2M312 171.5h2M315 173.5h2M318 175.5h2M320 176.5h2M322 177.5h2M324 178.5h2M326 179.5h3M329 180.5h4M333 181.5h3M336 182.5h2M338 183.5h3M341 184.5h4M345 185.5h4M349 186.5h3M352 187.5h2M354 188.5h2M356 189.5h2M358 190.5h3M361 191.5h3M364 192.5h2M366 193.5h3M369 194.5h3M372 195.5h2M374 196.5h3M377 197.5h3M380 198.5h2M382 199.5h2M384 200.5h2M387 202.5h2M391 205.5h2M395 208.5h2M399 211.5h2M407 218.5h2M414 224.5h2M416 225.5h2M423 231.5h2M426 233.5h2M428 234.5h2M430 235.5h2M432 236.5h2M435 238.5h2M438 240.5h2M440 241.5h2M443 243.5h2M447 246.5h2M455 253.5h2M463 260.5h2M470 266.5h2M472 267.5h2M475 269.5h2M478 271.5h2M480 272.5h2M482 273.5h3M485 274.5h3M488 275.5h2M490 276.5h2M492 277.5h2M494 278.5h2M496 279.5h2M498 280.5h2M500 281.5h2M502 282.5h2M504 283.5h2M507 285.5h2M510 287.5h2M512 288.5h2M514 289.5h2M516 290.5h2M519 292.5h2M522 294.5h2M524 295.5h2M526 296.5h2M528 297.5h2M530 298.5h2M532 299.5h2M535 301.5h2M539 304.5h2M542 306.5h2M544 307.5h2M546 308.5h2M548 309.5h2M551 311.5h2M554 313.5h2M556 314.5h2M559 316.5h2M563 319.5h2M567 322.5h2M570 324.5h2M572 325.5h2M574 326.5h2M576 327.5h2M578 328.5h2M580 329.5h2M583 331.5h2M586 333.5h2M588 334.5h2M590 335.5h2M592 336.5h2M594 337.5h2M596 338.5h2M598 339.5h3M601 340.5h2M603 341.5h2M606 343.5h2M608 344.5h2M611 346.5h2M615 349.5h2M619 352.5h2M623 355.5h2M626 357.5h2M628 358.5h2M635 364.5h2M638 366.5h2M640 367.5h2M643 369.5h2M646 371.5h2M648 372.5h2M651 374.5h2M654 376.5h3M657 377.5h3M660 378.5h2M663 380.5h2M671 387.5h2M675 390.5h2M679 393.5h2M683 396.5h2M686 398.5h2M688 399.5h2M690 400.5h3M693 401.5h3M696 402.5h2M698 403.5h2M700 404.5h2M702 405.5h2M704 406.5h2M706 407.5h2M708 408.5h2M710 409.5h2M712 410.5h2M715 412.5h2M727 423.5h2M739 434.5h2M742 436.5h2M744 437.5h2M746 438.5h2M748 439.5h2M750 440.5h3M753 441.5h4M757 442.5h3M760 443.5h2M762 444.5h3M765 445.5h2M767 446.5h2M770 448.5h2M772 449.5h2M774 450.5h3M777 451.5h3M780 452.5h2M782 453.5h3M785 454.5h8M793 455.5h4M797 456.5h4M801 457.5h8M1189 457.5h8M809 458.5h3M1181 458.5h8M1197 458.5h8M812 459.5h2M1173 459.5h8M1205 459.5h8M814 460.5h2M1161 460.5h12M1213 460.5h8M816 461.5h2M1157 461.5h4M1221 461.5h3M818 462.5h3M1154 462.5h3M1224 462.5h2M821 463.5h4M1152 463.5h2M1226 463.5h2M825 464.5h2M1149 464.5h3M1228 464.5h2M827 465.5h2M1145 465.5h4M1230 465.5h3M1142 466.5h3M1233 466.5h3M1140 467.5h2M1236 467.5h2M831 468.5h2M1138 468.5h2M1238 468.5h2M1136 469.5h2M1240 469.5h2M834 470.5h2M1134 470.5h2M1242 470.5h3M836 471.5h2M1132 471.5h2M1245 471.5h2M838 472.5h3M1130 472.5h2M1247 472.5h2M841 473.5h3M1128 473.5h2M844 474.5h2M1126 474.5h2M1250 474.5h2M846 475.5h3M1124 475.5h2M1252 475.5h2M849 476.5h4M1122 476.5h2M853 477.5h4M857 478.5h4M1119 478.5h2M861 479.5h4M865 480.5h4M1116 480.5h2M869 481.5h4M1113 481.5h3M873 482.5h4M1110 482.5h3M877 483.5h4M1108 483.5h2M881 484.5h3M1106 484.5h2M884 485.5h2M1104 485.5h2M886 486.5h3M1101 486.5h3M889 487.5h8M1098 487.5h3M897 488.5h7M1096 488.5h2M904 489.5h2M1094 489.5h2M906 490.5h6M1092 490.5h2M912 491.5h2M1090 491.5h2M914 492.5h3M1088 492.5h2M917 493.5h3M1086 493.5h2M920 494.5h2M1084 494.5h2M922 495.5h3M1082 495.5h2M925 496.5h4M1080 496.5h2M929 497.5h4M1077 497.5h3M933 498.5h8M1074 498.5h3M941 499.5h4M1072 499.5h2M945 500.5h8M1069 500.5h3M953 501.5h8M1065 501.5h4M961 502.5h4M1061 502.5h4M965 503.5h4M1053 503.5h8M969 504.5h4M1049 504.5h4M973 505.5h4M1046 505.5h3M977 506.5h12M1044 506.5h2M989 507.5h8M1041 507.5h3M997 508.5h16M1038 508.5h3M1013 509.5h16M1036 509.5h2M1029 510.5h7M218.5 132v1M221.5 134v1M314.5 172v1M317.5 174v1M386.5 201v1M389.5 203v1M390.5 204v1M393.5 206v1M394.5 207v1M397.5 209v1M398.5 210v1M401.5 212v1M402.5 213v1M403.5 214v1M404.5 215v1M405.5 216v1M406.5 217v1M409.5 219v1M410.5 220v1M411.5 221v1M412.5 222v1M413.5 223v1M418.5 226v1M419.5 227v1M420.5 228v1M421.5 229v1M422.5 230v1M425.5 232v1M434.5 237v1M437.5 239v1M442.5 242v1M445.5 244v1M446.5 245v1M449.5 247v1M450.5 248v1M451.5 249v1M452.5 250v1M453.5 251v1M454.5 252v1M457.5 254v1M458.5 255v1M459.5 256v1M460.5 257v1M461.5 258v1M462.5 259v1M465.5 261v1M466.5 262v1M467.5 263v1M468.5 264v1M469.5 265v1M474.5 268v1M477.5 270v1M506.5 284v1M509.5 286v1M518.5 291v1M521.5 293v1M534.5 300v1M537.5 302v1M538.5 303v1M541.5 305v1M550.5 310v1M553.5 312v1M558.5 315v1M561.5 317v1M562.5 318v1M565.5 320v1M566.5 321v1M569.5 323v1M582.5 330v1M585.5 332v1M605.5 342v1M610.5 345v1M613.5 347v1M614.5 348v1M617.5 350v1M618.5 351v1M621.5 353v1M622.5 354v1M625.5 356v1M630.5 359v1M631.5 360v1M632.5 361v1M633.5 362v1M634.5 363v1M637.5 365v1M642.5 368v1M645.5 370v1M650.5 373v1M653.5 375v1M662.5 379v1M665.5 381v1M666.5 382v1M667.5 383v1M668.5 384v1M669.5 385v1M670.5 386v1M673.5 388v1M674.5 389v1M677.5 391v1M678.5 392v1M681.5 394v1M682.5 395v1M685.5 397v1M714.5 411v1M717.5 413v1M718.5 414v1M719.5 415v1M720.5 416v1M721.5 417v1M722.5 418v1M723.5 419v1M724.5 420v1M725.5 421v1M726.5 422v1M729.5 424v1M730.5 425v1M731.5 426v1M732.5 427v1M733.5 428v1M734.5 429v1M735.5 430v1M736.5 431v1M737.5 432v1M738.5 433v1M741.5 435v1M769.5 447v1M829.5 466v1M830.5 467v1M833.5 469v1M1118.5 479v1M1121.5 477v1M1249.5 473v1" stroke="#0000cd" stroke-width="1" fill="none" shape-rendering="crispEdges"/>
<path d="M85 88.5h12M101 88.5h3M82 89.5h3M97 89.5h4M104 89.5h2M106 90.5h2M79 91.5h2M108 91.5h2M76 93.5h2M74 94.5h2M115 97.5h2M68 99.5h2M66 100.5h2M63 102.5h2M38 103.5h7M45 104.5h4M60 104.5h2M35 105.5h2M49 105.5h4M57 105.5h3M53 106.5h4M32 107.5h2M29 108.5h3M25 109.5h4M2 110.5h23M131 113.5h2M135 116.5h2M139 119.5h2M143 122.5h2M146 124.5h3M149 125.5h3M152 126.5h2M154 127.5h2M181 127.5h8M156 128.5h2M177 128.5h4M189 128.5h8M158 129.5h7M173 129.5h4M197 129.5h4M165 130.5h8M201 130.5h6M207 131.5h2M210 133.5h2M212 134.5h2M215 136.5h2M218 138.5h2M220 139.5h2M223 141.5h2M227 144.5h2M247 163.5h2M251 166.5h2M277 175.5h28M262 176.5h7M273 176.5h4M305 176.5h7M269 177.5h4M312 177.5h2M314 178.5h2M316 179.5h2M318 180.5h3M321 181.5h3M324 182.5h2M327 184.5h2M331 187.5h2M335 190.5h2M338 192.5h2M340 193.5h2M343 195.5h2M347 198.5h2M350 200.5h2M352 201.5h2M359 207.5h2M363 210.5h2M366 212.5h7M373 213.5h2M375 214.5h2M379 217.5h2M383 220.5h2M387 223.5h2M391 226.5h2M410 245.5h2M412 246.5h2M415 248.5h2M423 255.5h2M427 258.5h2M435 265.5h2M438 267.5h2M440 268.5h2M443 270.5h2M446 272.5h2M448 273.5h2M451 275.5h2M459 283.5h2M462 285.5h2M464 286.5h2M467 288.5h2M470 290.5h2M472 291.5h2M474 292.5h2M476 293.5h2M478 294.5h3M481 295.5h4M485 296.5h12M497 297.5h4M501 298.5h7M508 299.5h2M510 300.5h10M520 301.5h2M522 302.5h2M524 303.5h2M530 308.5h3M533 309.5h2M547 327.5h2M562 343.5h2M564 344.5h2M575 354.5h2M579 357.5h2M583 360.5h2M587 363.5h2M593 364.5h12M590 365.5h3M605 365.5h4M609 366.5h4M613 367.5h11M624 368.5h2M626 369.5h2M628 370.5h2M630 371.5h2M632 372.5h2M638 377.5h3M641 378.5h2M643 379.5h2M679 423.5h2M683 426.5h2M686 428.5h10M696 429.5h2M698 430.5h2M700 431.5h2M702 432.5h2M704 433.5h2M706 434.5h2M708 435.5h2M710 436.5h3M713 437.5h3M716 438.5h2M718 439.5h3M721 440.5h4M725 441.5h3M728 442.5h2M731 444.5h2M1169 444.5h3M1161 445.5h8M1172 445.5h2M734 446.5h3M1157 446.5h4M1174 446.5h2M737 447.5h3M1154 447.5h3M1176 447.5h2M740 448.5h2M1152 448.5h2M1178 448.5h2M742 449.5h2M1150 449.5h2M1180 449.5h2M744 450.5h2M1148 450.5h2M1182 450.5h2M746 451.5h2M1145 451.5h3M1184 451.5h2M748 452.5h2M1142 452.5h3M750 453.5h2M1140 453.5h2M1187 453.5h2M752 454.5h2M1138 454.5h2M754 455.5h3M757 456.5h3M1135 456.5h2M1191 456.5h2M760 457.5h2M762 458.5h2M764 459.5h2M1131 459.5h2M1195 459.5h2M767 461.5h2M1198 461.5h2M1127 462.5h2M1200 462.5h2M770 463.5h2M772 464.5h2M793 464.5h12M1203 464.5h2M774 465.5h3M789 465.5h4M805 465.5h7M1123 465.5h2M777 466.5h4M785 466.5h4M812 466.5h2M781 467.5h4M814 467.5h3M1207 467.5h2M817 468.5h3M1119 468.5h2M820 469.5h2M822 470.5h5M1211 470.5h2M827 471.5h2M1115 471.5h2M1112 473.5h2M831 474.5h2M1110 474.5h2M1090 475.5h3M1108 475.5h2M1088 476.5h2M1093 476.5h8M1105 476.5h3M835 477.5h2M1085 477.5h3M1101 477.5h4M1219 477.5h2M1082 478.5h3M1080 479.5h2M839 480.5h2M1077 480.5h3M1073 481.5h4M1069 482.5h4M1065 483.5h4M1226 483.5h2M1062 484.5h3M1228 484.5h2M1060 485.5h2M846 486.5h2M1058 486.5h2M1231 486.5h2M848 487.5h2M1056 487.5h2M850 488.5h2M1053 488.5h3M1234 488.5h2M852 489.5h2M1050 489.5h3M1236 489.5h2M1238 490.5h2M855 491.5h2M1047 491.5h2M1240 491.5h2M1242 492.5h3M1245 493.5h4M859 494.5h2M909 494.5h8M1249 494.5h3M901 495.5h8M917 495.5h4M1252 495.5h2M862 496.5h2M898 496.5h3M921 496.5h8M864 497.5h2M896 497.5h2M929 497.5h4M1040 497.5h2M866 498.5h3M893 498.5h3M933 498.5h14M1038 498.5h2M869 499.5h4M889 499.5h4M947 499.5h2M873 500.5h8M885 500.5h4M1035 500.5h2M881 501.5h4M951 502.5h2M1032 502.5h2M1030 503.5h2M955 505.5h2M1027 505.5h2M958 507.5h2M960 508.5h2M1023 508.5h2M963 510.5h2M1020 510.5h2M1018 511.5h2M966 512.5h2M968 513.5h2M1015 513.5h2M970 514.5h2M972 515.5h2M1012 515.5h2M974 516.5h3M1010 516.5h2M977 517.5h3M1008 517.5h2M980 518.5h2M985 518.5h4M1005 518.5h3M982 519.5h3M989 519.5h16M34.5 106v1M37.5 104v1M62.5 103v1M65.5 101v1M70.5 98v1M71.5 97v1M72.5 96v1M73.5 95v1M78.5 92v1M81.5 90v1M110.5 92v1M111.5 93v1M112.5 94v1M113.5 95v1M114.5 96v1M117.5 98v1M118.5 99v1M119.5 100v1M120.5 101v1M121.5 102v1M122.5 103v1M123.5 104v1M124.5 105v1M125.5 106v1M126.5 107v1M127.5 108v1M128.5 109v2M129.5 111v1M130.5 112v1M133.5 114v1M134.5 115v1M137.5 117v1M138.5 118v1M141.5 120v1M142.5 121v1M145.5 123v1M209.5 132v1M214.5 135v1M217.5 137v1M222.5 140v1M225.5 142v1M226.5 143v1M229.5 145v1M230.5 146v1M231.5 147v1M232.5 148v1M233.5 149v1M234.5 150v1M235.5 151v1M236.5 152v1M237.5 153v1M238.5 154v1M239.5 155v1M240.5 156v1M241.5 157v1M242.5 158v1M243.5 159v1M244.5 160v1M245.5 161v1M246.5 162v1M249.5 164v1M250.5 165v1M253.5 167v1M254.5 168v1M255.5 169v1M256.5 170v1M257.5 171v1M258.5 172v1M259.5 173v1M260.5 174v1M261.5 175v1M326.5 183v1M329.5 185v1M330.5 186v1M333.5 188v1M334.5 189v1M337.5 191v1M342.5 194v1M345.5 196v1M346.5 197v1M349.5 199v1M354.5 202v1M355.5 203v1M356.5 204v1M357.5 205v1M358.5 206v1M361.5 208v1M362.5 209v1M365.5 211v1M377.5 215v1M378.5 216v1M381.5 218v1M382.5 219v1M385.5 221v1M386.5 222v1M389.5 224v1M390.5 225v1M393.5 227v1M394.5 228v1M395.5 229v1M396.5 230v1M397.5 231v1M398.5 232v1M399.5 233v1M400.5 234v1M401.5 235v1M402.5 236v1M403.5 237v1M404.5 238v1M405.5 239v1M406.5 240v1M407.5 241v1M408.5 242v2M409.5 244v1M414.5 247v1M417.5 249v1M418.5 250v1M419.5 251v1M420.5 252v1M421.5 253v1M422.5 254v1M425.5 256v1M426.5 257v1M429.5 259v1M430.5 260v1M431.5 261v1M432.5 262v1M433.5 263v1M434.5 264v1M437.5 266v1M442.5 269v1M445.5 271v1M450.5 274v1M453.5 276v1M454.5 277v1M455.5 278v1M456.5 279v2M457.5 281v1M458.5 282v1M461.5 284v1M466.5 287v1M469.5 289v1M526.5 304v1M527.5 305v1M528.5 306v1M529.5 307v1M535.5 310v2M536.5 312v1M537.5 313v2M538.5 315v1M539.5 316v2M540.5 318v2M541.5 320v2M542.5 322v1M543.5 323v1M544.5 324v1M545.5 325v1M546.5 326v1M549.5 328v1M550.5 329v1M551.5 330v1M552.5 331v2M553.5 333v1M554.5 334v1M555.5 335v1M556.5 336v2M557.5 338v1M558.5 339v1M559.5 340v1M560.5 341v1M561.5 342v1M566.5 345v1M567.5 346v1M568.5 347v1M569.5 348v1M570.5 349v1M571.5 350v1M572.5 351v1M573.5 352v1M574.5 353v1M577.5 355v1M578.5 356v1M581.5 358v1M582.5 359v1M585.5 361v1M586.5 362v1M589.5 364v1M634.5 373v1M635.5 374v1M636.5 375v1M637.5 376v1M645.5 380v1M646.5 381v1M647.5 382v1M648.5 383v1M649.5 384v1M650.5 385v1M651.5 386v1M652.5 387v1M653.5 388v1M654.5 389v1M655.5 390v1M656.5 391v2M657.5 393v1M658.5 394v1M659.5 395v2M660.5 397v1M661.5 398v2M662.5 400v1M663.5 401v1M664.5 402v2M665.5 404v1M666.5 405v1M667.5 406v2M668.5 408v1M669.5 409v2M670.5 411v1M671.5 412v2M672.5 414v1M673.5 415v2M674.5 417v1M675.5 418v1M676.5 419v2M677.5 421v1M678.5 422v1M681.5 424v1M682.5 425v1M685.5 427v1M730.5 443v1M733.5 445v1M766.5 460v1M769.5 462v1M829.5 472v1M830.5 473v1M833.5 475v1M834.5 476v1M837.5 478v1M838.5 479v1M841.5 481v1M842.5 482v1M843.5 483v1M844.5 484v1M845.5 485v1M854.5 490v1M857.5 492v1M858.5 493v1M861.5 495v1M949.5 500v1M950.5 501v1M953.5 503v1M954.5 504v1M957.5 506v1M962.5 509v1M965.5 511v1M1014.5 514v1M1017.5 512v1M1022.5 509v1M1025.5 507v1M1026.5 506v1M1029.5 504v1M1034.5 501v1M1037.5 499v1M1042.5 496v1M1043.5 495v1M1044.5 494v1M1045.5 493v1M1046.5 492v1M1049.5 490v1M1114.5 472v1M1117.5 470v1M1118.5 469v1M1121.5 467v1M1122.5 466v1M1125.5 464v1M1126.5 463v1M1129.5 461v1M1130.5 460v1M1133.5 458v1M1134.5 457v1M1137.5 455v1M1186.5 452v1M1189.5 454v1M1190.5 455v1M1193.5 457v1M1194.5 458v1M1197.5 460v1M1202.5 463v1M1205.5 465v1M1206.5 466v1M1209.5 468v1M1210.5 469v1M1213.5 471v1M1214.5 472v1M1215.5 473v1M1216.5 474v1M1217.5 475v1M1218.5 476v1M1221.5 478v1M1222.5 479v1M1223.5 480v1M1224.5 481v1M1225.5 482v1M1230.5 485v1M1233.5 487v1" stroke="#ff0000" stroke-width="1" fill="none" shape-rendering="crispEdges"/>
<path d="M85 75.5h4M82 76.5h3M89 76.5h2M80 77.5h2M77 78.5h3M74 79.5h3M3 96.5h2M42 99.5h6M59 99.5h2M48 100.5h2M39 101.5h2M50 101.5h3M56 101.5h2M53 102.5h3M35 104.5h2M15 109.5h2M24 114.5h2M22 115.5h2M146 124.5h7M186 124.5h3M144 125.5h2M153 125.5h4M189 125.5h3M142 126.5h2M157 126.5h2M192 126.5h2M159 127.5h2M194 127.5h2M196 128.5h2M198 129.5h2M134 130.5h5M163 130.5h2M179 130.5h2M200 130.5h2M177 131.5h2M202 131.5h2M131 132.5h2M166 132.5h3M173 132.5h4M204 132.5h2M122 133.5h3M129 133.5h2M169 133.5h4M125 134.5h4M282 168.5h10M292 169.5h2M226 170.5h3M279 170.5h2M229 171.5h3M232 172.5h2M237 172.5h4M234 173.5h3M241 173.5h2M243 174.5h2M298 174.5h2M300 175.5h2M246 176.5h2M248 177.5h2M303 177.5h2M250 178.5h3M253 179.5h3M269 179.5h2M256 180.5h2M266 180.5h3M307 180.5h2M258 181.5h3M264 181.5h2M261 182.5h3M318 195.5h2M320 196.5h2M322 197.5h2M324 198.5h2M326 199.5h2M328 200.5h2M333 200.5h3M330 201.5h3M336 201.5h2M339 203.5h2M343 206.5h2M346 208.5h2M348 209.5h2M350 210.5h2M352 211.5h2M355 213.5h2M367 224.5h2M370 226.5h3M373 227.5h10M383 228.5h2M410 268.5h2M412 269.5h2M414 270.5h2M416 271.5h2M430 271.5h2M418 272.5h2M428 272.5h2M432 272.5h2M420 273.5h2M425 273.5h3M434 273.5h3M422 274.5h3M437 274.5h10M501 281.5h2M498 282.5h3M491 288.5h2M471 315.5h2M526 332.5h2M528 333.5h2M530 334.5h2M532 335.5h2M561 346.5h2M549 347.5h2M558 347.5h3M545 348.5h4M542 349.5h3M610 352.5h3M613 353.5h3M616 354.5h2M579 376.5h2M583 379.5h2M586 381.5h3M589 382.5h2M655 413.5h2M652 415.5h2M649 416.5h3M646 417.5h3M706 434.5h2M704 435.5h2M708 435.5h2M701 436.5h3M710 436.5h3M694 437.5h7M713 437.5h3M1134 437.5h3M716 438.5h2M1137 438.5h3M718 439.5h2M1140 439.5h2M720 440.5h2M1143 441.5h2M683 443.5h2M1147 444.5h2M1124 446.5h2M1150 446.5h2M1122 447.5h2M1152 447.5h2M1154 448.5h2M1166 448.5h5M1156 449.5h2M1164 449.5h2M1158 450.5h6M1175 453.5h2M765 459.5h2M761 460.5h4M758 461.5h3M1183 461.5h2M755 463.5h2M794 463.5h3M771 464.5h2M792 464.5h2M797 464.5h11M790 465.5h2M808 465.5h2M751 466.5h2M775 467.5h2M811 467.5h2M742 469.5h3M747 469.5h2M778 469.5h3M785 469.5h2M745 470.5h2M781 470.5h4M815 470.5h2M1058 471.5h3M818 472.5h2M1061 472.5h2M820 473.5h2M1099 475.5h2M1093 476.5h6M1089 477.5h4M1086 478.5h3M1067 479.5h2M1084 479.5h2M1078 480.5h6M1070 481.5h3M1076 481.5h2M1073 482.5h3M1207 485.5h2M1210 487.5h2M1212 488.5h2M911 489.5h2M1214 489.5h2M1216 490.5h2M1218 491.5h2M882 492.5h3M905 492.5h2M1220 492.5h2M880 493.5h2M885 493.5h3M901 493.5h4M878 494.5h2M888 494.5h2M893 494.5h8M1223 494.5h2M890 495.5h3M1029 496.5h6M1226 496.5h2M1246 496.5h7M1026 497.5h3M1228 497.5h2M1244 497.5h2M873 498.5h2M1024 498.5h2M1230 498.5h7M1241 498.5h3M870 499.5h3M1021 499.5h3M1237 499.5h4M868 500.5h2M1018 500.5h3M866 501.5h2M925 501.5h2M941 501.5h3M1016 501.5h2M857 502.5h4M864 502.5h2M922 502.5h3M938 502.5h3M944 502.5h2M1014 502.5h2M854 503.5h3M861 503.5h3M1001 503.5h4M1012 503.5h2M947 504.5h2M998 504.5h3M1005 504.5h7M930 505.5h3M933 506.5h2M848 508.5h2M846 509.5h2M966 527.5h2M968 528.5h2M970 529.5h2M972 530.5h2M974 531.5h3M979 531.5h2M977 532.5h2M2.5 95v1M5.5 97v1M6.5 98v1M7.5 99v1M8.5 100v2M9.5 102v1M10.5 103v1M11.5 104v1M12.5 105v2M13.5 107v1M14.5 108v1M17.5 110v1M18.5 111v1M19.5 112v1M20.5 113v1M21.5 114v1M26.5 113v1M27.5 112v1M28.5 111v1M29.5 110v1M30.5 109v1M31.5 108v1M32.5 107v1M33.5 106v1M34.5 105v1M37.5 103v1M38.5 102v1M41.5 100v1M58.5 100v1M61.5 98v1M62.5 97v1M63.5 96v1M64.5 94v2M65.5 93v1M66.5 92v1M67.5 91v1M68.5 89v2M69.5 88v1M70.5 86v2M71.5 84v2M72.5 82v2M73.5 80v2M90.5 77v1M91.5 78v2M92.5 80v3M93.5 83v2M94.5 85v2M95.5 87v1M96.5 88v2M97.5 90v1M98.5 91v1M99.5 92v2M100.5 94v1M101.5 95v2M102.5 97v2M103.5 99v2M104.5 101v3M105.5 104v2M106.5 106v3M107.5 109v2M108.5 111v2M109.5 113v2M110.5 115v1M111.5 116v2M112.5 118v1M113.5 119v2M114.5 121v1M115.5 122v1M116.5 123v2M117.5 125v1M118.5 126v1M119.5 127v2M120.5 129v2M121.5 131v2M133.5 131v1M139.5 129v1M140.5 128v1M141.5 127v1M161.5 128v1M162.5 129v1M165.5 131v1M181.5 129v1M182.5 128v1M183.5 127v1M184.5 126v1M185.5 125v1M206.5 133v1M207.5 134v2M208.5 136v1M209.5 137v2M210.5 139v1M211.5 140v2M212.5 142v2M213.5 144v2M214.5 146v2M215.5 148v2M216.5 150v2M217.5 152v2M218.5 154v2M219.5 156v2M220.5 158v2M221.5 160v2M222.5 162v2M223.5 164v2M224.5 166v2M225.5 168v2M245.5 175v1M271.5 178v1M272.5 177v1M273.5 176v1M274.5 175v1M275.5 174v1M276.5 173v1M277.5 172v1M278.5 171v1M281.5 169v1M294.5 170v1M295.5 171v1M296.5 172v1M297.5 173v1M302.5 176v1M305.5 178v1M306.5 179v1M309.5 181v1M310.5 182v2M311.5 184v2M312.5 186v2M313.5 188v2M314.5 190v2M315.5 192v1M316.5 193v1M317.5 194v1M338.5 202v1M341.5 204v1M342.5 205v1M345.5 207v1M354.5 212v1M357.5 214v1M358.5 215v1M359.5 216v1M360.5 217v1M361.5 218v1M362.5 219v1M363.5 220v1M364.5 221v1M365.5 222v1M366.5 223v1M369.5 225v1M385.5 229v1M386.5 230v1M387.5 231v1M388.5 232v2M389.5 234v1M390.5 235v1M391.5 236v2M392.5 238v2M393.5 240v2M394.5 242v1M395.5 243v2M396.5 245v1M397.5 246v2M398.5 248v1M399.5 249v2M400.5 251v2M401.5 253v2M402.5 255v1M403.5 256v2M404.5 258v2M405.5 260v2M406.5 262v1M407.5 263v2M408.5 265v1M409.5 266v2M447.5 275v2M448.5 277v1M449.5 278v2M450.5 280v1M451.5 281v2M452.5 283v1M453.5 284v2M454.5 286v2M455.5 288v2M456.5 290v3M457.5 293v2M458.5 295v3M459.5 298v2M460.5 300v2M461.5 302v2M462.5 304v2M463.5 306v2M464.5 308v2M465.5 310v2M466.5 312v1M467.5 313v1M468.5 314v1M469.5 315v1M470.5 316v1M473.5 314v1M474.5 313v1M475.5 312v1M476.5 311v1M477.5 310v1M478.5 309v1M479.5 307v2M480.5 306v1M481.5 304v2M482.5 302v2M483.5 300v2M484.5 298v2M485.5 296v2M486.5 295v1M487.5 293v2M488.5 292v1M489.5 290v2M490.5 289v1M493.5 287v1M494.5 286v1M495.5 285v1M496.5 284v1M497.5 283v1M503.5 282v2M504.5 284v1M505.5 285v2M506.5 287v2M507.5 289v2M508.5 291v3M509.5 294v2M510.5 296v3M511.5 299v2M512.5 301v2M513.5 303v2M514.5 305v2M515.5 307v2M516.5 309v2M517.5 311v2M518.5 313v2M519.5 315v3M520.5 318v4M521.5 322v3M522.5 325v2M523.5 327v2M524.5 329v1M525.5 330v2M534.5 336v2M535.5 338v2M536.5 340v2M537.5 342v2M538.5 344v2M539.5 346v1M540.5 347v1M541.5 348v1M551.5 348v1M552.5 349v1M553.5 350v1M554.5 351v1M555.5 350v1M556.5 349v1M557.5 348v1M563.5 347v2M564.5 349v1M565.5 350v2M566.5 352v2M567.5 354v2M568.5 356v2M569.5 358v2M570.5 360v1M571.5 361v2M572.5 363v1M573.5 364v2M574.5 366v2M575.5 368v2M576.5 370v2M577.5 372v2M578.5 374v2M581.5 377v1M582.5 378v1M585.5 380v1M591.5 381v1M592.5 379v2M593.5 378v1M594.5 376v2M595.5 374v2M596.5 372v2M597.5 370v2M598.5 369v1M599.5 367v2M600.5 365v2M601.5 363v2M602.5 362v1M603.5 360v2M604.5 359v1M605.5 357v2M606.5 356v1M607.5 355v1M608.5 354v1M609.5 353v1M618.5 355v1M619.5 356v2M620.5 358v1M621.5 359v2M622.5 361v2M623.5 363v2M624.5 365v2M625.5 367v2M626.5 369v3M627.5 372v3M628.5 375v2M629.5 377v3M630.5 380v3M631.5 383v3M632.5 386v3M633.5 389v3M634.5 392v3M635.5 395v3M636.5 398v4M637.5 402v3M638.5 405v2M639.5 407v2M640.5 409v1M641.5 410v2M642.5 412v1M643.5 413v1M644.5 414v2M645.5 416v1M654.5 414v1M657.5 412v1M658.5 411v1M659.5 412v1M660.5 413v1M661.5 414v1M662.5 415v1M663.5 416v1M664.5 417v1M665.5 418v1M666.5 419v2M667.5 421v2M668.5 423v2M669.5 425v2M670.5 427v1M671.5 428v2M672.5 430v1M673.5 431v2M674.5 433v1M675.5 434v1M676.5 435v1M677.5 436v1M678.5 437v1M679.5 438v1M680.5 439v2M681.5 441v1M682.5 442v1M685.5 444v1M686.5 445v1M687.5 444v1M688.5 443v1M689.5 442v1M690.5 441v1M691.5 440v1M692.5 439v1M693.5 438v1M722.5 441v1M723.5 442v1M724.5 443v1M725.5 444v1M726.5 445v1M727.5 446v2M728.5 448v2M729.5 450v2M730.5 452v2M731.5 454v2M732.5 456v2M733.5 458v2M734.5 460v1M735.5 461v1M736.5 462v2M737.5 464v1M738.5 465v1M739.5 466v1M740.5 467v1M741.5 468v1M749.5 468v1M750.5 467v1M753.5 465v1M754.5 464v1M757.5 462v1M767.5 460v1M768.5 461v1M769.5 462v1M770.5 463v1M773.5 465v1M774.5 466v1M777.5 468v1M787.5 468v1M788.5 467v1M789.5 466v1M810.5 466v1M813.5 468v1M814.5 469v1M817.5 471v1M822.5 474v1M823.5 475v1M824.5 476v1M825.5 477v1M826.5 478v2M827.5 480v2M828.5 482v2M829.5 484v2M830.5 486v3M831.5 489v2M832.5 491v2M833.5 493v2M834.5 495v1M835.5 496v1M836.5 497v2M837.5 499v1M838.5 500v1M839.5 501v1M840.5 502v1M841.5 503v1M842.5 504v1M843.5 505v1M844.5 506v2M845.5 508v1M850.5 507v1M851.5 506v1M852.5 505v1M853.5 504v1M875.5 497v1M876.5 496v1M877.5 495v1M907.5 491v1M908.5 490v1M909.5 489v1M910.5 488v1M913.5 490v1M914.5 491v1M915.5 492v2M916.5 494v2M917.5 496v2M918.5 498v1M919.5 499v1M920.5 500v1M921.5 501v1M927.5 502v1M928.5 503v1M929.5 504v1M935.5 505v1M936.5 504v1M937.5 503v1M946.5 503v1M949.5 505v1M950.5 506v1M951.5 507v1M952.5 508v2M953.5 510v1M954.5 511v1M955.5 512v2M956.5 514v1M957.5 515v2M958.5 517v1M959.5 518v1M960.5 519v2M961.5 521v1M962.5 522v1M963.5 523v1M964.5 524v2M965.5 526v1M981.5 530v1M982.5 529v1M983.5 527v2M984.5 526v1M985.5 524v2M986.5 523v1M987.5 522v1M988.5 520v2M989.5 519v1M990.5 518v1M991.5 516v2M992.5 514v2M993.5 512v2M994.5 511v1M995.5 509v2M996.5 507v2M997.5 505v2M1035.5 495v1M1036.5 494v1M1037.5 493v1M1038.5 492v1M1039.5 490v2M1040.5 489v1M1041.5 487v2M1042.5 485v2M1043.5 483v2M1044.5 481v2M1045.5 479v2M1046.5 478v1M1047.5 476v2M1048.5 474v2M1049.5 472v2M1050.5 471v1M1051.5 470v1M1052.5 469v1M1053.5 468v1M1054.5 467v1M1055.5 468v1M1056.5 469v1M1057.5 470v1M1063.5 473v2M1064.5 475v1M1065.5 476v2M1066.5 478v1M1069.5 480v1M1101.5 474v1M1102.5 473v1M1103.5 472v1M1104.5 471v1M1105.5 470v1M1106.5 469v1M1107.5 468v1M1108.5 467v1M1109.5 466v1M1110.5 465v1M1111.5 464v1M1112.5 462v2M1113.5 461v1M1114.5 460v1M1115.5 458v2M1116.5 456v2M1117.5 454v2M1118.5 453v1M1119.5 451v2M1120.5 450v1M1121.5 448v2M1126.5 445v1M1127.5 444v1M1128.5 443v1M1129.5 442v1M1130.5 441v1M1131.5 440v1M1132.5 439v1M1133.5 438v1M1142.5 440v1M1145.5 442v1M1146.5 443v1M1149.5 445v1M1171.5 449v1M1172.5 450v1M1173.5 451v1M1174.5 452v1M1177.5 454v1M1178.5 455v1M1179.5 456v1M1180.5 457v2M1181.5 459v1M1182.5 460v1M1185.5 462v1M1186.5 463v1M1187.5 464v1M1188.5 465v1M1189.5 466v1M1190.5 467v1M1191.5 468v1M1192.5 469v1M1193.5 470v1M1194.5 471v1M1195.5 472v1M1196.5 473v1M1197.5 474v1M1198.5 475v1M1199.5 476v1M1200.5 477v1M1201.5 478v1M1202.5 479v1M1203.5 480v1M1204.5 481v2M1205.5 483v1M1206.5 484v1M1209.5 486v1M1222.5 493v1M1225.5 495v1M1253.5 497v1" stroke="#ffa500" stroke-width="1" fill="none" shape-rendering="crispEdges"/>
<rect x="2" y="173" width="1576" height="2" fill="#ff0000" />
<rect x="2" y="241" width="1576" height="2" fill="#ff0000" />
<rect x="2" y="319" width="1576" height="2" fill="#ff0000" />
<rect x="2" y="402" width="1576" height="2" fill="#ff0000" />
<rect x="2" y="467" width="1576" height="2" fill="#00ff00" />
<rect x="2" y="541" width="1576" height="2" fill="#0000ff" />
</g>
<rect x="1" y="400" width="6" height="6" fill="#ff0000" />
<rect x="3" y="402" width="2" height="2" fill="#fff" />
<rect x="1572" y="400" width="6" height="6" fill="#ff0000" />
<rect x="1574" y="402" width="2" height="2" fill="#fff" />
<rect x="1" y="465" width="6" height="6" fill="#00ff00" />
<rect x="3" y="467" width="2" height="2" fill="#fff" />
<rect x="1572" y="465" width="6" height="6" fill="#00ff00" />
<rect x="1574" y="467" width="2" height="2" fill="#fff" />
<rect x="1" y="539" width="6" height="6" fill="#0000ff" />
<rect x="3" y="541" width="2" height="2" fill="#fff" />
<rect x="1572" y="539" width="6" height="6" fill="#0000ff" />
<rect x="1574" y="541" width="2" height="2" fill="#fff" />
<rect x="1579" y="56" width="2" height="1" fill="#000" />
<text x="1584" y="60.4" font-size="10" fill="#000" stroke="#000" stroke-width="0.18" text-anchor="start" textLength="33" lengthAdjust="spacingAndGlyphs" >7.19110</text>
<rect x="1579" y="90" width="2" height="1" fill="#000" />
<text x="1584" y="93.8" font-size="10" fill="#000" stroke="#000" stroke-width="0.18" text-anchor="start" textLength="33" lengthAdjust="spacingAndGlyphs" >7.13670</text>
<rect x="1579" y="123" width="2" height="1" fill="#000" />
<text x="1584" y="127.2" font-size="10" fill="#000" stroke="#000" stroke-width="0.18" text-anchor="start" textLength="33" lengthAdjust="spacingAndGlyphs" >7.08230</text>
<rect x="1579" y="156" width="2" height="1" fill="#000" />
<text x="1584" y="159.7" font-size="10" fill="#000" stroke="#000" stroke-width="0.18" text-anchor="start" textLength="33" lengthAdjust="spacingAndGlyphs" >7.02950</text>
<rect x="1579" y="189" width="2" height="1" fill="#000" />
<text x="1584" y="193.1" font-size="10" fill="#000" stroke="#000" stroke-width="0.18" text-anchor="start" textLength="33" lengthAdjust="spacingAndGlyphs" >6.97510</text>
<rect x="1579" y="221" width="2" height="1" fill="#000" />
<text x="1584" y="225.5" font-size="10" fill="#000" stroke="#000" stroke-width="0.18" text-anchor="start" textLength="33" lengthAdjust="spacingAndGlyphs" >6.92230</text>
<rect x="1579" y="255" width="2" height="1" fill="#000" />
<text x="1584" y="258.9" font-size="10" fill="#000" stroke="#000" stroke-width="0.18" text-anchor="start" textLength="33" lengthAdjust="spacingAndGlyphs" >6.86790</text>
<rect x="1579" y="288" width="2" height="1" fill="#000" />
<text x="1584" y="292.3" font-size="10" fill="#000" stroke="#000" stroke-width="0.18" text-anchor="start" textLength="33" lengthAdjust="spacingAndGlyphs" >6.81350</text>
<rect x="1579" y="354" width="2" height="1" fill="#000" />
<text x="1584" y="358.1" font-size="10" fill="#000" stroke="#000" stroke-width="0.18" text-anchor="start" textLength="33" lengthAdjust="spacingAndGlyphs" >6.70630</text>
<rect x="1579" y="386" width="2" height="1" fill="#000" />
<text x="1584" y="390.6" font-size="10" fill="#000" stroke="#000" stroke-width="0.18" text-anchor="start" textLength="33" lengthAdjust="spacingAndGlyphs" >6.65350</text>
<rect x="1579" y="420" width="2" height="1" fill="#000" />
<text x="1584" y="424.0" font-size="10" fill="#000" stroke="#000" stroke-width="0.18" text-anchor="start" textLength="33" lengthAdjust="spacingAndGlyphs" >6.59910</text>
<rect x="1579" y="453" width="2" height="1" fill="#000" />
<text x="1584" y="457.4" font-size="10" fill="#000" stroke="#000" stroke-width="0.18" text-anchor="start" textLength="33" lengthAdjust="spacingAndGlyphs" >6.54470</text>
<rect x="1579" y="486" width="2" height="1" fill="#000" />
<text x="1584" y="489.8" font-size="10" fill="#000" stroke="#000" stroke-width="0.18" text-anchor="start" textLength="33" lengthAdjust="spacingAndGlyphs" >6.49190</text>
<rect x="1579" y="519" width="2" height="1" fill="#000" />
<text x="1584" y="523.2" font-size="10" fill="#000" stroke="#000" stroke-width="0.18" text-anchor="start" textLength="33" lengthAdjust="spacingAndGlyphs" >6.43750</text>
<rect x="1579" y="552" width="2" height="1" fill="#000" />
<text x="1584" y="555.6" font-size="10" fill="#000" stroke="#000" stroke-width="0.18" text-anchor="start" textLength="33" lengthAdjust="spacingAndGlyphs" >6.38470</text>
<rect x="1580" y="168" width="41" height="11" fill="#ff0000" />
<text x="1584" y="177.1" font-size="10" fill="#fff" stroke="#fff" stroke-width="0.18" text-anchor="start" textLength="33" lengthAdjust="spacingAndGlyphs" >7.00029</text>
<rect x="1580" y="236" width="41" height="11" fill="#ff0000" />
<text x="1584" y="245.1" font-size="10" fill="#fff" stroke="#fff" stroke-width="0.18" text-anchor="start" textLength="33" lengthAdjust="spacingAndGlyphs" >6.88897</text>
<rect x="1580" y="314" width="41" height="11" fill="#ff0000" />
<text x="1584" y="323.1" font-size="10" fill="#fff" stroke="#fff" stroke-width="0.18" text-anchor="start" textLength="33" lengthAdjust="spacingAndGlyphs" >6.76157</text>
<rect x="1580" y="397" width="41" height="11" fill="#ff0000" />
<text x="1584" y="406.1" font-size="10" fill="#fff" stroke="#fff" stroke-width="0.18" text-anchor="start" textLength="33" lengthAdjust="spacingAndGlyphs" >6.62709</text>
<rect x="1580" y="462" width="41" height="11" fill="#00ff00" />
<text x="1584" y="471.1" font-size="10" fill="#fff" stroke="#fff" stroke-width="0.18" text-anchor="start" textLength="33" lengthAdjust="spacingAndGlyphs" >6.52138</text>
<rect x="1580" y="536" width="41" height="11" fill="#0000ff" />
<text x="1584" y="545.1" font-size="10" fill="#fff" stroke="#fff" stroke-width="0.18" text-anchor="start" textLength="33" lengthAdjust="spacingAndGlyphs" >6.40104</text>
<rect x="1580" y="500" width="41" height="11" fill="#000" />
<text x="1584" y="508.8" font-size="10" fill="#fff" stroke="#fff" stroke-width="0.18" text-anchor="start" textLength="33" lengthAdjust="spacingAndGlyphs" >6.46126</text>
<path d="M5 35 L12 35 L8.5 39 Z" fill="#000"/>
<text x="17.2" y="40" font-size="10" fill="#000" stroke="#000" stroke-width="0.18" text-anchor="start" textLength="65.4" lengthAdjust="spacingAndGlyphs" >USDCNH,Daily</text>
<text x="89.1" y="40" font-size="10" fill="#000" stroke="#000" stroke-width="0.18" text-anchor="start" textLength="32.3" lengthAdjust="spacingAndGlyphs" >6.46561</text>
<text x="125.1" y="40" font-size="10" fill="#000" stroke="#000" stroke-width="0.18" text-anchor="start" textLength="32.6" lengthAdjust="spacingAndGlyphs" >6.46748</text>
<text x="161.2" y="40" font-size="10" fill="#000" stroke="#000" stroke-width="0.18" text-anchor="start" textLength="32.0" lengthAdjust="spacingAndGlyphs" >6.46117</text>
<text x="196.9" y="40" font-size="10" fill="#000" stroke="#000" stroke-width="0.18" text-anchor="start" textLength="32.7" lengthAdjust="spacingAndGlyphs" >6.46126</text>
<text x="6.3" y="570" font-size="10" fill="#000" stroke="#000" stroke-width="0.18" text-anchor="start" textLength="30.6" lengthAdjust="spacingAndGlyphs" >RSI(14)</text>
<text x="41.1" y="570" font-size="10" fill="#000" stroke="#000" stroke-width="0.18" text-anchor="start" textLength="32.7" lengthAdjust="spacingAndGlyphs" >32.5313</text>
<text x="6.3" y="668" font-size="10" fill="#000" stroke="#000" stroke-width="0.18" text-anchor="start" textLength="65.2" lengthAdjust="spacingAndGlyphs" >MACD(12,26,9)</text>
<text x="75.3" y="668" font-size="10" fill="#000" stroke="#000" stroke-width="0.18" text-anchor="start" textLength="40.7" lengthAdjust="spacingAndGlyphs" >-0.015025</text>
<text x="119.4" y="668" font-size="10" fill="#000" stroke="#000" stroke-width="0.18" text-anchor="start" textLength="40.2" lengthAdjust="spacingAndGlyphs" >-0.015662</text>
<path d="M1256.8 29 L1266.2 29 L1261.5 34.2 Z" fill="#c0c0c0"/>
<line x1="3" x2="1578" y1="587.5" y2="587.5" stroke="#c0c0c0" stroke-width="1" stroke-dasharray="3,3" shape-rendering="crispEdges"/>
<line x1="3" x2="1578" y1="624.5" y2="624.5" stroke="#c0c0c0" stroke-width="1" stroke-dasharray="3,3" shape-rendering="crispEdges"/>
<path d="M1118 586.5h5M1045 588.5h2M1130 588.5h3M1128 589.5h2M1133 589.5h6M1107 590.5h2M1126 590.5h2M1038 591.5h2M1040 592.5h2M1110 592.5h5M58 595.5h3M65 595.5h6M61 596.5h4M82 596.5h2M1051 596.5h2M34 597.5h3M80 597.5h2M84 597.5h2M1099 597.5h2M1155 597.5h2M37 598.5h2M78 598.5h2M1016 598.5h2M1160 598.5h2M31 599.5h2M39 599.5h2M1014 599.5h2M1078 599.5h3M1085 599.5h7M1158 599.5h2M1026 600.5h2M1076 600.5h2M1081 600.5h4M1092 600.5h2M1095 600.5h2M996 601.5h2M1024 601.5h2M1028 601.5h2M1033 601.5h2M1062 601.5h3M1073 601.5h3M1149 601.5h2M1166 601.5h3M27 602.5h2M43 602.5h2M994 602.5h2M1022 602.5h2M1030 602.5h3M1060 602.5h2M1065 602.5h8M1146 602.5h3M1169 602.5h2M602 603.5h2M897 603.5h2M992 603.5h2M1009 603.5h2M1058 603.5h2M19 604.5h2M46 604.5h2M486 604.5h2M604 604.5h2M894 604.5h3M899 604.5h2M990 604.5h2M1002 604.5h7M15 605.5h2M23 605.5h2M48 605.5h2M274 605.5h3M488 605.5h2M177 606.5h8M490 606.5h5M7 607.5h2M174 607.5h3M185 607.5h2M495 607.5h2M501 607.5h2M927 607.5h2M939 607.5h2M11 608.5h2M97 608.5h4M293 608.5h2M499 608.5h2M597 608.5h2M788 608.5h2M791 608.5h2M807 608.5h2M870 608.5h5M935 608.5h2M94 609.5h3M101 609.5h2M171 609.5h2M594 609.5h3M786 609.5h2M930 609.5h5M942 609.5h5M1174 609.5h7M1185 609.5h2M134 610.5h15M546 610.5h3M610 610.5h7M1181 610.5h4M132 611.5h2M149 611.5h4M190 611.5h2M198 611.5h3M282 611.5h7M549 611.5h2M617 611.5h3M1242 611.5h2M130 612.5h2M153 612.5h6M192 612.5h2M196 612.5h2M201 612.5h6M266 612.5h3M289 612.5h2M322 612.5h5M620 612.5h2M690 612.5h6M1244 612.5h2M128 613.5h2M194 613.5h2M269 613.5h2M302 613.5h2M327 613.5h2M696 613.5h2M712 613.5h2M750 613.5h7M888 613.5h2M126 614.5h2M304 614.5h2M557 614.5h2M698 614.5h2M709 614.5h3M757 614.5h4M863 614.5h2M886 614.5h2M920 614.5h2M298 615.5h3M306 615.5h3M342 615.5h3M474 615.5h2M554 615.5h3M559 615.5h2M650 615.5h2M658 615.5h2M700 615.5h2M705 615.5h4M761 615.5h3M798 615.5h5M861 615.5h2M918 615.5h2M958 615.5h2M309 616.5h2M331 616.5h2M345 616.5h6M642 616.5h3M652 616.5h2M656 616.5h2M660 616.5h2M702 616.5h3M718 616.5h3M764 616.5h2M814 616.5h2M825 616.5h2M858 616.5h3M960 616.5h2M965 616.5h6M106 617.5h6M162 617.5h3M351 617.5h2M370 617.5h5M477 617.5h2M514 617.5h3M562 617.5h6M582 617.5h9M647 617.5h2M654 617.5h2M721 617.5h2M781 617.5h2M816 617.5h2M821 617.5h4M843 617.5h2M955 617.5h2M962 617.5h3M112 618.5h2M165 618.5h2M334 618.5h2M375 618.5h2M517 618.5h2M532 618.5h2M568 618.5h2M679 618.5h2M723 618.5h2M774 618.5h7M818 618.5h3M847 618.5h2M1194 618.5h2M336 619.5h2M430 619.5h2M526 619.5h6M570 619.5h2M1196 619.5h2M1201 619.5h8M1250 619.5h2M378 620.5h5M442 620.5h3M572 620.5h2M682 620.5h5M745 620.5h2M771 620.5h2M1198 620.5h3M1209 620.5h2M1252 620.5h2M250 621.5h3M445 621.5h2M523 621.5h2M666 621.5h2M727 621.5h2M738 621.5h7M253 622.5h7M434 622.5h3M439 622.5h2M575 622.5h2M668 622.5h2M1218 622.5h3M1233 622.5h6M228 623.5h2M231 623.5h2M247 623.5h2M260 623.5h3M358 623.5h9M437 623.5h2M541 623.5h2M670 623.5h5M730 623.5h3M735 623.5h2M1216 623.5h2M1221 623.5h3M1230 623.5h3M226 624.5h2M242 624.5h5M314 624.5h2M414 624.5h2M538 624.5h3M631 624.5h2M733 624.5h2M1214 624.5h2M1224 624.5h2M1228 624.5h2M386 625.5h5M416 625.5h2M468 625.5h2M1226 625.5h2M210 626.5h6M418 626.5h3M466 626.5h2M634 626.5h5M830 626.5h2M216 627.5h2M421 627.5h6M832 627.5h2M218 628.5h3M451 628.5h2M463 628.5h2M221 629.5h2M394 629.5h6M400 630.5h2M403 632.5h2M409 633.5h2M406 634.5h3M2.5 597v2M3.5 599v2M4.5 601v2M5.5 603v2M6.5 605v2M9.5 608v1M10.5 609v1M13.5 607v1M14.5 606v1M17.5 604v1M18.5 603v1M21.5 605v1M22.5 606v1M25.5 604v1M26.5 603v1M29.5 601v1M30.5 600v1M33.5 598v1M41.5 600v1M42.5 601v1M45.5 603v1M50.5 606v1M51.5 604v2M52.5 603v1M53.5 601v2M54.5 600v1M55.5 599v1M56.5 597v2M57.5 596v1M70.5 594v1M71.5 592v2M72.5 590v2M73.5 588v2M74.5 586v2M75.5 588v3M76.5 591v3M77.5 594v3M78.5 597v1M86.5 598v1M87.5 599v2M88.5 601v1M89.5 602v2M90.5 604v1M91.5 605v1M92.5 606v2M93.5 608v1M102.5 610v1M103.5 611v2M104.5 613v2M105.5 615v2M114.5 619v1M115.5 618v1M116.5 616v2M117.5 615v1M118.5 614v1M119.5 615v1M120.5 616v1M121.5 617v1M122.5 618v1M123.5 617v1M124.5 616v1M125.5 615v1M159.5 613v1M160.5 614v2M161.5 616v1M166.5 617v1M167.5 615v2M168.5 613v2M169.5 611v2M170.5 610v1M173.5 608v1M187.5 608v1M188.5 609v1M189.5 610v1M206.5 613v1M207.5 614v4M208.5 618v3M209.5 621v4M210.5 625v1M223.5 628v1M224.5 626v2M225.5 625v1M230.5 622v1M233.5 624v1M234.5 625v1M235.5 623v2M236.5 622v1M237.5 620v2M238.5 619v1M239.5 620v1M240.5 621v2M241.5 623v1M249.5 622v1M262.5 624v1M263.5 620v3M264.5 617v3M265.5 614v3M266.5 613v1M270.5 612v1M271.5 610v2M272.5 608v2M273.5 606v2M274.5 604v1M277.5 606v1M278.5 607v1M279.5 608v1M280.5 609v1M281.5 610v1M291.5 611v1M292.5 609v2M294.5 607v1M295.5 609v2M296.5 611v2M297.5 613v2M298.5 616v1M301.5 614v1M310.5 617v1M311.5 618v2M312.5 620v2M313.5 622v2M314.5 625v1M315.5 623v1M316.5 622v1M317.5 620v2M318.5 619v1M319.5 617v2M320.5 615v2M321.5 613v2M329.5 614v1M330.5 615v1M333.5 617v1M338.5 620v1M339.5 619v1M340.5 617v2M341.5 616v1M353.5 618v1M354.5 619v1M355.5 620v1M356.5 621v1M357.5 622v1M367.5 621v2M368.5 620v1M369.5 618v2M377.5 619v1M383.5 621v1M384.5 622v2M385.5 624v1M391.5 626v1M392.5 627v1M393.5 628v1M402.5 631v1M405.5 633v1M410.5 632v1M411.5 630v2M412.5 628v2M413.5 626v2M414.5 625v1M426.5 626v1M427.5 624v2M428.5 622v2M429.5 620v2M430.5 618v1M432.5 620v1M433.5 621v1M441.5 621v1M447.5 622v2M448.5 624v1M449.5 625v2M450.5 627v1M453.5 629v1M454.5 630v1M455.5 631v1M456.5 632v1M457.5 633v1M458.5 634v1M459.5 633v1M460.5 631v2M461.5 630v1M462.5 629v1M465.5 627v1M470.5 623v2M471.5 621v2M472.5 618v3M473.5 616v2M474.5 614v1M476.5 616v1M478.5 618v1M479.5 615v2M480.5 612v3M481.5 610v2M482.5 608v2M483.5 607v1M484.5 606v1M485.5 605v1M497.5 608v1M498.5 609v1M502.5 606v1M503.5 608v2M504.5 610v2M505.5 612v2M506.5 614v1M507.5 615v2M508.5 617v2M509.5 619v2M510.5 621v1M511.5 620v1M512.5 619v1M513.5 618v1M519.5 619v1M520.5 620v1M521.5 621v1M522.5 622v1M525.5 620v1M534.5 617v1M535.5 618v2M536.5 620v2M537.5 622v2M542.5 622v1M543.5 619v3M544.5 615v4M545.5 612v3M546.5 611v1M551.5 612v1M552.5 613v1M553.5 614v1M561.5 616v1M574.5 621v1M577.5 623v1M578.5 624v1M579.5 622v2M580.5 620v2M581.5 618v2M590.5 616v1M591.5 614v2M592.5 612v2M593.5 610v2M599.5 607v1M600.5 605v2M601.5 604v1M606.5 605v1M607.5 606v1M608.5 607v2M609.5 609v1M622.5 613v1M623.5 614v2M624.5 616v1M625.5 617v2M626.5 619v1M627.5 620v1M628.5 621v1M629.5 622v1M630.5 623v1M633.5 625v1M638.5 625v1M639.5 622v3M640.5 620v2M641.5 617v3M642.5 615v1M645.5 617v1M646.5 618v1M649.5 616v1M662.5 617v1M663.5 618v1M664.5 619v1M665.5 620v1M675.5 621v2M676.5 620v1M677.5 618v2M678.5 617v1M681.5 619v1M686.5 619v1M687.5 617v2M688.5 615v2M689.5 613v2M714.5 612v1M715.5 613v1M716.5 614v1M717.5 615v1M725.5 619v1M726.5 620v1M729.5 622v1M737.5 622v1M747.5 618v2M748.5 616v2M749.5 614v2M766.5 617v1M767.5 618v1M768.5 619v1M769.5 620v1M770.5 621v1M773.5 619v1M782.5 616v1M783.5 614v2M784.5 612v2M785.5 610v2M790.5 607v1M793.5 609v1M794.5 610v1M795.5 611v1M796.5 612v2M797.5 614v1M802.5 614v1M803.5 612v2M804.5 610v2M805.5 608v2M806.5 607v1M809.5 609v1M810.5 610v1M811.5 611v2M812.5 613v1M813.5 614v2M826.5 617v1M827.5 618v2M828.5 620v3M829.5 623v2M830.5 625v1M834.5 628v1M835.5 626v2M836.5 625v1M837.5 623v2M838.5 622v1M839.5 620v2M840.5 619v1M841.5 617v2M842.5 616v1M845.5 618v1M846.5 619v1M849.5 617v1M850.5 616v1M851.5 615v1M852.5 614v1M853.5 613v1M854.5 612v1M855.5 613v1M856.5 614v1M857.5 615v1M865.5 613v1M866.5 612v1M867.5 611v1M868.5 610v1M869.5 609v1M875.5 607v1M876.5 606v1M877.5 605v1M878.5 604v1M879.5 605v1M880.5 606v2M881.5 608v1M882.5 609v1M883.5 610v1M884.5 611v2M885.5 613v1M890.5 611v2M891.5 609v2M892.5 607v2M893.5 605v2M901.5 605v1M902.5 606v1M903.5 607v1M904.5 608v1M905.5 609v1M906.5 610v1M907.5 608v2M908.5 607v1M909.5 605v2M910.5 604v1M911.5 605v1M912.5 606v1M913.5 607v1M914.5 608v1M915.5 609v2M916.5 611v2M917.5 613v2M922.5 613v1M923.5 611v2M924.5 609v2M925.5 607v2M926.5 606v1M929.5 608v1M937.5 607v1M938.5 606v1M941.5 608v1M947.5 610v1M948.5 611v2M949.5 613v1M950.5 614v1M951.5 615v1M952.5 616v1M953.5 617v1M954.5 618v1M957.5 616v1M971.5 617v1M972.5 618v1M973.5 619v1M974.5 620v1M975.5 618v2M976.5 616v2M977.5 614v2M978.5 613v1M979.5 611v2M980.5 610v1M981.5 608v2M982.5 607v1M983.5 605v2M984.5 603v2M985.5 601v2M986.5 600v1M987.5 601v1M988.5 602v1M989.5 603v1M998.5 600v1M999.5 601v1M1000.5 602v1M1001.5 603v1M1011.5 602v1M1012.5 601v1M1013.5 600v1M1018.5 597v1M1019.5 598v1M1020.5 599v2M1021.5 601v1M1034.5 600v1M1035.5 598v2M1036.5 595v3M1037.5 593v2M1038.5 592v1M1042.5 593v1M1043.5 591v2M1044.5 590v1M1045.5 589v1M1046.5 587v1M1047.5 589v2M1048.5 591v2M1049.5 593v2M1050.5 595v1M1053.5 597v1M1054.5 598v1M1055.5 599v1M1056.5 600v2M1057.5 602v1M1094.5 601v1M1097.5 599v1M1098.5 598v1M1101.5 596v1M1102.5 595v1M1103.5 593v2M1104.5 592v1M1105.5 590v2M1106.5 589v1M1109.5 591v1M1115.5 590v2M1116.5 589v1M1117.5 587v2M1123.5 587v1M1124.5 588v1M1125.5 589v1M1139.5 590v2M1140.5 592v2M1141.5 594v2M1142.5 596v1M1143.5 597v2M1144.5 599v1M1145.5 600v2M1151.5 600v1M1152.5 598v2M1153.5 597v1M1154.5 596v1M1157.5 598v1M1162.5 597v1M1163.5 598v1M1164.5 599v1M1165.5 600v1M1171.5 603v2M1172.5 605v2M1173.5 607v2M1187.5 610v1M1188.5 611v2M1189.5 613v1M1190.5 614v1M1191.5 615v1M1192.5 616v1M1193.5 617v1M1211.5 621v1M1212.5 622v1M1213.5 623v1M1238.5 621v1M1239.5 618v3M1240.5 616v2M1241.5 613v3M1242.5 612v1M1246.5 613v1M1247.5 614v2M1248.5 616v1M1249.5 617v2" stroke="#1e90ff" stroke-width="1" fill="none" shape-rendering="crispEdges"/>
<text x="1581.5" y="568.0" font-size="10" fill="#000" stroke="#000" stroke-width="0.18" text-anchor="start" textLength="15" lengthAdjust="spacingAndGlyphs" >100</text>
<text x="1581.5" y="591.0" font-size="10" fill="#000" stroke="#000" stroke-width="0.18" text-anchor="start" textLength="10" lengthAdjust="spacingAndGlyphs" >70</text>
<text x="1581.5" y="628.0" font-size="10" fill="#000" stroke="#000" stroke-width="0.18" text-anchor="start" textLength="10" lengthAdjust="spacingAndGlyphs" >30</text>
<text x="1581.5" y="650.0" font-size="10" fill="#000" stroke="#000" stroke-width="0.18" text-anchor="start" textLength="5" lengthAdjust="spacingAndGlyphs" >0</text>
<g shape-rendering="crispEdges">
<rect x="2" y="673" width="1" height="21" fill="#c0c0c0" />
<rect x="6" y="676" width="1" height="18" fill="#c0c0c0" />
<rect x="10" y="679" width="1" height="15" fill="#c0c0c0" />
<rect x="14" y="681" width="1" height="13" fill="#c0c0c0" />
<rect x="18" y="682" width="1" height="12" fill="#c0c0c0" />
<rect x="22" y="683" width="1" height="11" fill="#c0c0c0" />
<rect x="26" y="683" width="1" height="11" fill="#c0c0c0" />
<rect x="30" y="682" width="1" height="12" fill="#c0c0c0" />
<rect x="34" y="680" width="1" height="14" fill="#c0c0c0" />
<rect x="38" y="679" width="1" height="15" fill="#c0c0c0" />
<rect x="42" y="679" width="1" height="15" fill="#c0c0c0" />
<rect x="46" y="681" width="1" height="13" fill="#c0c0c0" />
<rect x="50" y="681" width="1" height="13" fill="#c0c0c0" />
<rect x="54" y="682" width="1" height="12" fill="#c0c0c0" />
<rect x="58" y="680" width="1" height="14" fill="#c0c0c0" />
<rect x="62" y="677" width="1" height="17" fill="#c0c0c0" />
<rect x="66" y="675" width="1" height="19" fill="#c0c0c0" />
<rect x="70" y="674" width="1" height="20" fill="#c0c0c0" />
<rect x="74" y="669" width="1" height="25" fill="#c0c0c0" />
<rect x="78" y="669" width="1" height="25" fill="#c0c0c0" />
<rect x="82" y="668" width="1" height="26" fill="#c0c0c0" />
<rect x="86" y="669" width="1" height="25" fill="#c0c0c0" />
<rect x="90" y="672" width="1" height="22" fill="#c0c0c0" />
<rect x="94" y="677" width="1" height="17" fill="#c0c0c0" />
<rect x="98" y="681" width="1" height="13" fill="#c0c0c0" />
<rect x="102" y="684" width="1" height="10" fill="#c0c0c0" />
<rect x="106" y="692" width="1" height="2" fill="#c0c0c0" />
<rect x="110" y="693" width="1" height="5" fill="#c0c0c0" />
<rect x="114" y="693" width="1" height="11" fill="#c0c0c0" />
<rect x="118" y="693" width="1" height="13" fill="#c0c0c0" />
<rect x="122" y="693" width="1" height="18" fill="#c0c0c0" />
<rect x="126" y="693" width="1" height="20" fill="#c0c0c0" />
<rect x="130" y="693" width="1" height="20" fill="#c0c0c0" />
<rect x="134" y="693" width="1" height="19" fill="#c0c0c0" />
<rect x="138" y="693" width="1" height="18" fill="#c0c0c0" />
<rect x="142" y="693" width="1" height="17" fill="#c0c0c0" />
<rect x="146" y="693" width="1" height="17" fill="#c0c0c0" />
<rect x="150" y="693" width="1" height="16" fill="#c0c0c0" />
<rect x="154" y="693" width="1" height="16" fill="#c0c0c0" />
<rect x="158" y="693" width="1" height="16" fill="#c0c0c0" />
<rect x="162" y="693" width="1" height="18" fill="#c0c0c0" />
<rect x="166" y="693" width="1" height="19" fill="#c0c0c0" />
<rect x="170" y="693" width="1" height="18" fill="#c0c0c0" />
<rect x="174" y="693" width="1" height="16" fill="#c0c0c0" />
<rect x="178" y="693" width="1" height="14" fill="#c0c0c0" />
<rect x="182" y="693" width="1" height="12" fill="#c0c0c0" />
<rect x="186" y="693" width="1" height="11" fill="#c0c0c0" />
<rect x="190" y="693" width="1" height="11" fill="#c0c0c0" />
<rect x="194" y="693" width="1" height="12" fill="#c0c0c0" />
<rect x="198" y="693" width="1" height="12" fill="#c0c0c0" />
<rect x="202" y="693" width="1" height="12" fill="#c0c0c0" />
<rect x="206" y="693" width="1" height="12" fill="#c0c0c0" />
<rect x="210" y="693" width="1" height="17" fill="#c0c0c0" />
<rect x="214" y="693" width="1" height="22" fill="#c0c0c0" />
<rect x="218" y="693" width="1" height="26" fill="#c0c0c0" />
<rect x="222" y="693" width="1" height="30" fill="#c0c0c0" />
<rect x="226" y="693" width="1" height="32" fill="#c0c0c0" />
<rect x="230" y="693" width="1" height="32" fill="#c0c0c0" />
<rect x="234" y="693" width="1" height="34" fill="#c0c0c0" />
<rect x="238" y="693" width="1" height="33" fill="#c0c0c0" />
<rect x="242" y="693" width="1" height="35" fill="#c0c0c0" />
<rect x="246" y="693" width="1" height="36" fill="#c0c0c0" />
<rect x="250" y="693" width="1" height="36" fill="#c0c0c0" />
<rect x="254" y="693" width="1" height="36" fill="#c0c0c0" />
<rect x="258" y="693" width="1" height="35" fill="#c0c0c0" />
<rect x="262" y="693" width="1" height="35" fill="#c0c0c0" />
<rect x="266" y="693" width="1" height="32" fill="#c0c0c0" />
<rect x="270" y="693" width="1" height="30" fill="#c0c0c0" />
<rect x="274" y="693" width="1" height="25" fill="#c0c0c0" />
<rect x="278" y="693" width="1" height="22" fill="#c0c0c0" />
<rect x="282" y="693" width="1" height="20" fill="#c0c0c0" />
<rect x="286" y="693" width="1" height="19" fill="#c0c0c0" />
<rect x="290" y="693" width="1" height="19" fill="#c0c0c0" />
<rect x="294" y="693" width="1" height="16" fill="#c0c0c0" />
<rect x="298" y="693" width="1" height="18" fill="#c0c0c0" />
<rect x="302" y="693" width="1" height="18" fill="#c0c0c0" />
<rect x="306" y="693" width="1" height="19" fill="#c0c0c0" />
<rect x="310" y="693" width="1" height="20" fill="#c0c0c0" />
<rect x="314" y="693" width="1" height="25" fill="#c0c0c0" />
<rect x="318" y="693" width="1" height="28" fill="#c0c0c0" />
<rect x="322" y="693" width="1" height="27" fill="#c0c0c0" />
<rect x="326" y="693" width="1" height="26" fill="#c0c0c0" />
<rect x="330" y="693" width="1" height="26" fill="#c0c0c0" />
<rect x="334" y="693" width="1" height="28" fill="#c0c0c0" />
<rect x="338" y="693" width="1" height="30" fill="#c0c0c0" />
<rect x="342" y="693" width="1" height="29" fill="#c0c0c0" />
<rect x="346" y="693" width="1" height="29" fill="#c0c0c0" />
<rect x="350" y="693" width="1" height="29" fill="#c0c0c0" />
<rect x="354" y="693" width="1" height="30" fill="#c0c0c0" />
<rect x="358" y="693" width="1" height="32" fill="#c0c0c0" />
<rect x="362" y="693" width="1" height="34" fill="#c0c0c0" />
<rect x="366" y="693" width="1" height="35" fill="#c0c0c0" />
<rect x="370" y="693" width="1" height="34" fill="#c0c0c0" />
<rect x="374" y="693" width="1" height="33" fill="#c0c0c0" />
<rect x="378" y="693" width="1" height="33" fill="#c0c0c0" />
<rect x="382" y="693" width="1" height="33" fill="#c0c0c0" />
<rect x="386" y="693" width="1" height="35" fill="#c0c0c0" />
<rect x="390" y="693" width="1" height="37" fill="#c0c0c0" />
<rect x="394" y="693" width="1" height="40" fill="#c0c0c0" />
<rect x="398" y="693" width="1" height="42" fill="#c0c0c0" />
<rect x="402" y="693" width="1" height="45" fill="#c0c0c0" />
<rect x="406" y="693" width="1" height="48" fill="#c0c0c0" />
<rect x="410" y="693" width="1" height="50" fill="#c0c0c0" />
<rect x="414" y="693" width="1" height="49" fill="#c0c0c0" />
<rect x="418" y="693" width="1" height="49" fill="#c0c0c0" />
<rect x="422" y="693" width="1" height="49" fill="#c0c0c0" />
<rect x="426" y="693" width="1" height="49" fill="#c0c0c0" />
<rect x="430" y="693" width="1" height="46" fill="#c0c0c0" />
<rect x="434" y="693" width="1" height="45" fill="#c0c0c0" />
<rect x="438" y="693" width="1" height="44" fill="#c0c0c0" />
<rect x="442" y="693" width="1" height="42" fill="#c0c0c0" />
<rect x="446" y="693" width="1" height="41" fill="#c0c0c0" />
<rect x="450" y="693" width="1" height="42" fill="#c0c0c0" />
<rect x="454" y="693" width="1" height="46" fill="#c0c0c0" />
<rect x="458" y="693" width="1" height="51" fill="#c0c0c0" />
<rect x="462" y="693" width="1" height="54" fill="#c0c0c0" />
<rect x="466" y="693" width="1" height="54" fill="#c0c0c0" />
<rect x="470" y="693" width="1" height="53" fill="#c0c0c0" />
<rect x="474" y="693" width="1" height="49" fill="#c0c0c0" />
<rect x="478" y="693" width="1" height="47" fill="#c0c0c0" />
<rect x="482" y="693" width="1" height="42" fill="#c0c0c0" />
<rect x="486" y="693" width="1" height="35" fill="#c0c0c0" />
<rect x="490" y="693" width="1" height="30" fill="#c0c0c0" />
<rect x="494" y="693" width="1" height="25" fill="#c0c0c0" />
<rect x="498" y="693" width="1" height="23" fill="#c0c0c0" />
<rect x="502" y="693" width="1" height="20" fill="#c0c0c0" />
<rect x="506" y="693" width="1" height="22" fill="#c0c0c0" />
<rect x="510" y="693" width="1" height="28" fill="#c0c0c0" />
<rect x="514" y="693" width="1" height="31" fill="#c0c0c0" />
<rect x="518" y="693" width="1" height="33" fill="#c0c0c0" />
<rect x="522" y="693" width="1" height="38" fill="#c0c0c0" />
<rect x="526" y="693" width="1" height="40" fill="#c0c0c0" />
<rect x="530" y="693" width="1" height="42" fill="#c0c0c0" />
<rect x="534" y="693" width="1" height="42" fill="#c0c0c0" />
<rect x="538" y="693" width="1" height="48" fill="#c0c0c0" />
<rect x="542" y="693" width="1" height="51" fill="#c0c0c0" />
<rect x="546" y="693" width="1" height="47" fill="#c0c0c0" />
<rect x="550" y="693" width="1" height="43" fill="#c0c0c0" />
<rect x="554" y="693" width="1" height="44" fill="#c0c0c0" />
<rect x="558" y="693" width="1" height="43" fill="#c0c0c0" />
<rect x="562" y="693" width="1" height="44" fill="#c0c0c0" />
<rect x="566" y="693" width="1" height="45" fill="#c0c0c0" />
<rect x="570" y="693" width="1" height="47" fill="#c0c0c0" />
<rect x="574" y="693" width="1" height="49" fill="#c0c0c0" />
<rect x="578" y="693" width="1" height="53" fill="#c0c0c0" />
<rect x="582" y="693" width="1" height="53" fill="#c0c0c0" />
<rect x="586" y="693" width="1" height="51" fill="#c0c0c0" />
<rect x="590" y="693" width="1" height="50" fill="#c0c0c0" />
<rect x="594" y="693" width="1" height="44" fill="#c0c0c0" />
<rect x="598" y="693" width="1" height="39" fill="#c0c0c0" />
<rect x="602" y="693" width="1" height="32" fill="#c0c0c0" />
<rect x="606" y="693" width="1" height="27" fill="#c0c0c0" />
<rect x="610" y="693" width="1" height="25" fill="#c0c0c0" />
<rect x="614" y="693" width="1" height="24" fill="#c0c0c0" />
<rect x="618" y="693" width="1" height="23" fill="#c0c0c0" />
<rect x="622" y="693" width="1" height="24" fill="#c0c0c0" />
<rect x="626" y="693" width="1" height="28" fill="#c0c0c0" />
<rect x="630" y="693" width="1" height="35" fill="#c0c0c0" />
<rect x="634" y="693" width="1" height="42" fill="#c0c0c0" />
<rect x="638" y="693" width="1" height="47" fill="#c0c0c0" />
<rect x="642" y="693" width="1" height="46" fill="#c0c0c0" />
<rect x="646" y="693" width="1" height="47" fill="#c0c0c0" />
<rect x="650" y="693" width="1" height="46" fill="#c0c0c0" />
<rect x="654" y="693" width="1" height="47" fill="#c0c0c0" />
<rect x="658" y="693" width="1" height="46" fill="#c0c0c0" />
<rect x="662" y="693" width="1" height="46" fill="#c0c0c0" />
<rect x="666" y="693" width="1" height="48" fill="#c0c0c0" />
<rect x="670" y="693" width="1" height="52" fill="#c0c0c0" />
<rect x="674" y="693" width="1" height="54" fill="#c0c0c0" />
<rect x="678" y="693" width="1" height="53" fill="#c0c0c0" />
<rect x="682" y="693" width="1" height="53" fill="#c0c0c0" />
<rect x="686" y="693" width="1" height="54" fill="#c0c0c0" />
<rect x="690" y="693" width="1" height="50" fill="#c0c0c0" />
<rect x="694" y="693" width="1" height="46" fill="#c0c0c0" />
<rect x="698" y="693" width="1" height="43" fill="#c0c0c0" />
<rect x="702" y="693" width="1" height="42" fill="#c0c0c0" />
<rect x="706" y="693" width="1" height="41" fill="#c0c0c0" />
<rect x="710" y="693" width="1" height="39" fill="#c0c0c0" />
<rect x="714" y="693" width="1" height="36" fill="#c0c0c0" />
<rect x="718" y="693" width="1" height="35" fill="#c0c0c0" />
<rect x="722" y="693" width="1" height="35" fill="#c0c0c0" />
<rect x="726" y="693" width="1" height="37" fill="#c0c0c0" />
<rect x="730" y="693" width="1" height="40" fill="#c0c0c0" />
<rect x="734" y="693" width="1" height="42" fill="#c0c0c0" />
<rect x="738" y="693" width="1" height="43" fill="#c0c0c0" />
<rect x="742" y="693" width="1" height="43" fill="#c0c0c0" />
<rect x="746" y="693" width="1" height="42" fill="#c0c0c0" />
<rect x="750" y="693" width="1" height="38" fill="#c0c0c0" />
<rect x="754" y="693" width="1" height="36" fill="#c0c0c0" />
<rect x="758" y="693" width="1" height="33" fill="#c0c0c0" />
<rect x="762" y="693" width="1" height="31" fill="#c0c0c0" />
<rect x="766" y="693" width="1" height="31" fill="#c0c0c0" />
<rect x="770" y="693" width="1" height="31" fill="#c0c0c0" />
<rect x="774" y="693" width="1" height="31" fill="#c0c0c0" />
<rect x="778" y="693" width="1" height="30" fill="#c0c0c0" />
<rect x="782" y="693" width="1" height="29" fill="#c0c0c0" />
<rect x="786" y="693" width="1" height="26" fill="#c0c0c0" />
<rect x="790" y="693" width="1" height="22" fill="#c0c0c0" />
<rect x="794" y="693" width="1" height="20" fill="#c0c0c0" />
<rect x="798" y="693" width="1" height="21" fill="#c0c0c0" />
<rect x="802" y="693" width="1" height="21" fill="#c0c0c0" />
<rect x="806" y="693" width="1" height="18" fill="#c0c0c0" />
<rect x="810" y="693" width="1" height="17" fill="#c0c0c0" />
<rect x="814" y="693" width="1" height="18" fill="#c0c0c0" />
<rect x="818" y="693" width="1" height="20" fill="#c0c0c0" />
<rect x="822" y="693" width="1" height="21" fill="#c0c0c0" />
<rect x="826" y="693" width="1" height="21" fill="#c0c0c0" />
<rect x="830" y="693" width="1" height="27" fill="#c0c0c0" />
<rect x="834" y="693" width="1" height="32" fill="#c0c0c0" />
<rect x="838" y="693" width="1" height="35" fill="#c0c0c0" />
<rect x="842" y="693" width="1" height="34" fill="#c0c0c0" />
<rect x="846" y="693" width="1" height="35" fill="#c0c0c0" />
<rect x="850" y="693" width="1" height="34" fill="#c0c0c0" />
<rect x="854" y="693" width="1" height="32" fill="#c0c0c0" />
<rect x="858" y="693" width="1" height="32" fill="#c0c0c0" />
<rect x="862" y="693" width="1" height="31" fill="#c0c0c0" />
<rect x="866" y="693" width="1" height="29" fill="#c0c0c0" />
<rect x="870" y="693" width="1" height="26" fill="#c0c0c0" />
<rect x="874" y="693" width="1" height="23" fill="#c0c0c0" />
<rect x="878" y="693" width="1" height="19" fill="#c0c0c0" />
<rect x="882" y="693" width="1" height="18" fill="#c0c0c0" />
<rect x="886" y="693" width="1" height="19" fill="#c0c0c0" />
<rect x="890" y="693" width="1" height="18" fill="#c0c0c0" />
<rect x="894" y="693" width="1" height="15" fill="#c0c0c0" />
<rect x="898" y="693" width="1" height="12" fill="#c0c0c0" />
<rect x="902" y="693" width="1" height="10" fill="#c0c0c0" />
<rect x="906" y="693" width="1" height="11" fill="#c0c0c0" />
<rect x="910" y="693" width="1" height="8" fill="#c0c0c0" />
<rect x="914" y="693" width="1" height="9" fill="#c0c0c0" />
<rect x="918" y="693" width="1" height="13" fill="#c0c0c0" />
<rect x="922" y="693" width="1" height="15" fill="#c0c0c0" />
<rect x="926" y="693" width="1" height="13" fill="#c0c0c0" />
<rect x="930" y="693" width="1" height="13" fill="#c0c0c0" />
<rect x="934" y="693" width="1" height="13" fill="#c0c0c0" />
<rect x="938" y="693" width="1" height="11" fill="#c0c0c0" />
<rect x="942" y="693" width="1" height="11" fill="#c0c0c0" />
<rect x="946" y="693" width="1" height="12" fill="#c0c0c0" />
<rect x="950" y="693" width="1" height="14" fill="#c0c0c0" />
<rect x="954" y="693" width="1" height="18" fill="#c0c0c0" />
<rect x="958" y="693" width="1" height="20" fill="#c0c0c0" />
<rect x="962" y="693" width="1" height="22" fill="#c0c0c0" />
<rect x="966" y="693" width="1" height="24" fill="#c0c0c0" />
<rect x="970" y="693" width="1" height="25" fill="#c0c0c0" />
<rect x="974" y="693" width="1" height="27" fill="#c0c0c0" />
<rect x="978" y="693" width="1" height="26" fill="#c0c0c0" />
<rect x="982" y="693" width="1" height="23" fill="#c0c0c0" />
<rect x="986" y="693" width="1" height="17" fill="#c0c0c0" />
<rect x="990" y="693" width="1" height="14" fill="#c0c0c0" />
<rect x="994" y="693" width="1" height="11" fill="#c0c0c0" />
<rect x="998" y="693" width="1" height="7" fill="#c0c0c0" />
<rect x="1002" y="693" width="1" height="5" fill="#c0c0c0" />
<rect x="1006" y="693" width="1" height="4" fill="#c0c0c0" />
<rect x="1010" y="693" width="1" height="3" fill="#c0c0c0" />
<rect x="1014" y="692" width="1" height="2" fill="#c0c0c0" />
<rect x="1018" y="689" width="1" height="5" fill="#c0c0c0" />
<rect x="1022" y="688" width="1" height="6" fill="#c0c0c0" />
<rect x="1026" y="687" width="1" height="7" fill="#c0c0c0" />
<rect x="1030" y="687" width="1" height="7" fill="#c0c0c0" />
<rect x="1034" y="686" width="1" height="8" fill="#c0c0c0" />
<rect x="1038" y="681" width="1" height="13" fill="#c0c0c0" />
<rect x="1042" y="677" width="1" height="17" fill="#c0c0c0" />
<rect x="1046" y="671" width="1" height="23" fill="#c0c0c0" />
<rect x="1050" y="669" width="1" height="25" fill="#c0c0c0" />
<rect x="1054" y="669" width="1" height="25" fill="#c0c0c0" />
<rect x="1058" y="672" width="1" height="22" fill="#c0c0c0" />
<rect x="1062" y="673" width="1" height="21" fill="#c0c0c0" />
<rect x="1066" y="674" width="1" height="20" fill="#c0c0c0" />
<rect x="1070" y="675" width="1" height="19" fill="#c0c0c0" />
<rect x="1074" y="676" width="1" height="18" fill="#c0c0c0" />
<rect x="1078" y="677" width="1" height="17" fill="#c0c0c0" />
<rect x="1082" y="677" width="1" height="17" fill="#c0c0c0" />
<rect x="1086" y="677" width="1" height="17" fill="#c0c0c0" />
<rect x="1090" y="678" width="1" height="16" fill="#c0c0c0" />
<rect x="1094" y="678" width="1" height="16" fill="#c0c0c0" />
<rect x="1098" y="678" width="1" height="16" fill="#c0c0c0" />
<rect x="1102" y="677" width="1" height="17" fill="#c0c0c0" />
<rect x="1106" y="674" width="1" height="20" fill="#c0c0c0" />
<rect x="1110" y="672" width="1" height="22" fill="#c0c0c0" />
<rect x="1114" y="671" width="1" height="23" fill="#c0c0c0" />
<rect x="1118" y="667" width="1" height="27" fill="#c0c0c0" />
<rect x="1122" y="664" width="1" height="30" fill="#c0c0c0" />
<rect x="1126" y="663" width="1" height="31" fill="#c0c0c0" />
<rect x="1130" y="661" width="1" height="33" fill="#c0c0c0" />
<rect x="1134" y="661" width="1" height="33" fill="#c0c0c0" />
<rect x="1138" y="660" width="1" height="34" fill="#c0c0c0" />
<rect x="1142" y="663" width="1" height="31" fill="#c0c0c0" />
<rect x="1146" y="666" width="1" height="28" fill="#c0c0c0" />
<rect x="1150" y="669" width="1" height="25" fill="#c0c0c0" />
<rect x="1154" y="670" width="1" height="24" fill="#c0c0c0" />
<rect x="1158" y="671" width="1" height="23" fill="#c0c0c0" />
<rect x="1162" y="672" width="1" height="22" fill="#c0c0c0" />
<rect x="1166" y="674" width="1" height="20" fill="#c0c0c0" />
<rect x="1170" y="676" width="1" height="18" fill="#c0c0c0" />
<rect x="1174" y="680" width="1" height="14" fill="#c0c0c0" />
<rect x="1178" y="683" width="1" height="11" fill="#c0c0c0" />
<rect x="1182" y="687" width="1" height="7" fill="#c0c0c0" />
<rect x="1186" y="689" width="1" height="5" fill="#c0c0c0" />
<rect x="1190" y="692" width="1" height="2" fill="#c0c0c0" />
<rect x="1194" y="693" width="1" height="5" fill="#c0c0c0" />
<rect x="1198" y="693" width="1" height="9" fill="#c0c0c0" />
<rect x="1202" y="693" width="1" height="12" fill="#c0c0c0" />
<rect x="1206" y="693" width="1" height="14" fill="#c0c0c0" />
<rect x="1210" y="693" width="1" height="16" fill="#c0c0c0" />
<rect x="1214" y="693" width="1" height="19" fill="#c0c0c0" />
<rect x="1218" y="693" width="1" height="21" fill="#c0c0c0" />
<rect x="1222" y="693" width="1" height="22" fill="#c0c0c0" />
<rect x="1226" y="693" width="1" height="24" fill="#c0c0c0" />
<rect x="1230" y="693" width="1" height="25" fill="#c0c0c0" />
<rect x="1234" y="693" width="1" height="25" fill="#c0c0c0" />
<rect x="1238" y="693" width="1" height="25" fill="#c0c0c0" />
<rect x="1242" y="693" width="1" height="23" fill="#c0c0c0" />
<rect x="1246" y="693" width="1" height="21" fill="#c0c0c0" />
<rect x="1250" y="693" width="1" height="22" fill="#c0c0c0" />
<rect x="1254" y="693" width="1" height="22" fill="#c0c0c0" />
</g>
<path d="M1147 664.5h3M1153 664.5h3M1141 665.5h3M1159 665.5h2M1136 667.5h2M1165 667.5h3M1130 670.5h2M1172 670.5h2M93 672.5h2M98 673.5h3M1069 673.5h3M1075 673.5h3M1081 673.5h3M1123 673.5h2M86 674.5h3M1087 674.5h2M1178 674.5h2M81 675.5h2M104 675.5h2M1064 675.5h2M1117 675.5h3M1093 676.5h3M14 677.5h3M20 677.5h3M74 677.5h3M1058 677.5h2M1099 677.5h3M1105 677.5h3M1111 677.5h2M1184 677.5h2M8 678.5h3M26 678.5h3M2 679.5h3M32 679.5h2M68 679.5h3M38 680.5h3M62 680.5h3M44 681.5h3M50 681.5h3M56 681.5h3M1051 681.5h2M1190 681.5h2M1046 684.5h2M1040 688.5h2M1033 691.5h3M1028 693.5h2M1207 694.5h2M1022 696.5h2M127 697.5h2M1015 700.5h2M931 703.5h2M1219 703.5h2M205 704.5h3M211 704.5h2M925 704.5h3M937 704.5h3M943 704.5h3M913 705.5h3M919 705.5h2M949 705.5h3M955 705.5h2M199 706.5h2M140 707.5h2M193 707.5h3M218 707.5h2M908 707.5h2M961 707.5h3M181 708.5h3M187 708.5h2M967 708.5h2M1004 708.5h2M1226 708.5h2M145 709.5h3M151 709.5h2M163 709.5h3M169 709.5h3M175 709.5h3M157 710.5h3M224 710.5h2M902 710.5h2M313 711.5h3M974 711.5h2M998 711.5h2M1232 711.5h2M307 712.5h2M319 712.5h2M817 712.5h3M823 712.5h3M301 713.5h3M829 713.5h3M896 713.5h2M979 713.5h2M1237 713.5h3M230 714.5h2M325 714.5h3M812 714.5h2M835 714.5h2M985 714.5h3M991 714.5h2M1243 714.5h2M296 715.5h2M331 715.5h2M1249 715.5h3M806 716.5h2M889 716.5h3M236 717.5h2M337 717.5h3M842 717.5h2M290 718.5h2M884 718.5h2M344 719.5h2M517 719.5h3M799 719.5h2M349 720.5h3M355 720.5h2M523 720.5h2M793 720.5h3M848 720.5h2M242 721.5h2M284 721.5h2M512 721.5h2M631 721.5h3M878 721.5h2M361 722.5h3M626 722.5h2M637 722.5h2M788 722.5h2M853 722.5h3M367 723.5h2M530 723.5h2M859 723.5h2M248 724.5h2M277 724.5h3M373 724.5h3M379 724.5h2M782 724.5h2M871 724.5h2M385 725.5h3M865 725.5h3M253 726.5h3M259 726.5h2M271 726.5h2M391 726.5h2M535 726.5h2M619 726.5h2M644 726.5h2M265 727.5h3M775 727.5h2M397 728.5h3M770 728.5h2M403 729.5h2M650 730.5h2M733 730.5h3M542 731.5h2M727 731.5h3M739 731.5h3M745 731.5h3M751 731.5h3M757 731.5h3M763 731.5h2M410 732.5h2M655 733.5h2M722 733.5h2M548 734.5h2M416 735.5h2M608 735.5h2M553 736.5h3M716 736.5h2M421 737.5h3M451 737.5h3M457 737.5h3M559 737.5h3M565 737.5h3M662 737.5h2M445 738.5h3M463 738.5h2M571 738.5h3M577 738.5h3M667 738.5h2M427 739.5h3M488 739.5h2M583 739.5h2M601 739.5h2M709 739.5h3M433 740.5h3M439 740.5h2M469 740.5h3M475 740.5h2M589 740.5h3M595 740.5h3M673 740.5h3M481 741.5h3M679 741.5h3M704 741.5h2M685 742.5h3M697 742.5h3M691 743.5h3M34.5 680v1M80.5 676v1M92.5 673v1M106.5 676v1M110.5 679v1M111.5 680v1M112.5 681v1M116.5 685v1M117.5 686v1M118.5 687v1M122.5 691v1M123.5 692v1M124.5 693v1M129.5 698v1M133.5 702v1M134.5 703v1M135.5 704v1M139.5 706v1M153.5 710v1M189.5 707v1M201.5 705v1M213.5 705v1M217.5 706v1M223.5 709v1M229.5 713v1M235.5 716v1M241.5 720v1M247.5 723v1M261.5 727v1M273.5 725v1M283.5 722v1M289.5 719v1M295.5 716v1M309.5 711v1M321.5 713v1M333.5 716v1M343.5 718v1M357.5 721v1M369.5 724v1M381.5 725v1M393.5 727v1M405.5 730v1M409.5 731v1M415.5 734v1M441.5 739v1M465.5 739v1M477.5 741v1M487.5 740v1M493.5 736v1M494.5 735v1M495.5 734v1M499.5 731v1M500.5 730v1M501.5 729v1M505.5 726v1M506.5 725v1M507.5 724v1M511.5 722v1M525.5 721v1M529.5 722v1M537.5 727v1M541.5 730v1M547.5 733v1M585.5 740v1M603.5 738v1M607.5 736v1M613.5 731v1M614.5 730v1M615.5 729v1M621.5 725v1M625.5 723v1M639.5 723v1M643.5 725v1M649.5 729v1M657.5 734v1M661.5 736v1M669.5 739v1M703.5 742v1M715.5 737v1M721.5 734v1M765.5 730v1M769.5 729v1M777.5 726v1M781.5 725v1M787.5 723v1M801.5 718v1M805.5 717v1M811.5 715v1M837.5 715v1M841.5 716v1M847.5 719v1M861.5 724v1M873.5 723v1M877.5 722v1M883.5 719v1M895.5 714v1M901.5 711v1M907.5 708v1M921.5 704v1M933.5 704v1M957.5 706v1M969.5 709v1M973.5 710v1M981.5 714v1M993.5 713v1M997.5 712v1M1003.5 709v1M1009.5 705v1M1010.5 704v1M1011.5 703v1M1017.5 699v1M1021.5 697v1M1027.5 694v1M1039.5 689v1M1045.5 685v1M1053.5 680v1M1057.5 678v1M1063.5 676v1M1089.5 675v1M1113.5 676v1M1125.5 672v1M1129.5 671v1M1135.5 668v1M1161.5 666v1M1171.5 669v1M1177.5 673v1M1183.5 676v1M1189.5 680v1M1195.5 684v1M1196.5 685v1M1197.5 686v1M1201.5 689v1M1202.5 690v1M1203.5 691v1M1209.5 695v1M1213.5 698v1M1214.5 699v1M1215.5 700v1M1221.5 704v1M1225.5 707v1M1231.5 710v1M1245.5 715v1" stroke="#ff0000" stroke-width="1" fill="none" shape-rendering="crispEdges"/>
<text x="1582" y="666.0" font-size="10" fill="#000" stroke="#000" stroke-width="0.18" text-anchor="start" textLength="38" lengthAdjust="spacingAndGlyphs" >0.025623</text>
<text x="1582" y="697.0" font-size="10" fill="#000" stroke="#000" stroke-width="0.18" text-anchor="start" textLength="18" lengthAdjust="spacingAndGlyphs" >0.00</text>
<text x="1582" y="748.0" font-size="10" fill="#000" stroke="#000" stroke-width="0.18" text-anchor="start" textLength="41" lengthAdjust="spacingAndGlyphs" >-0.040687</text>
<rect x="1579" y="693" width="1" height="1" fill="#000" />
<rect x="1579" y="657" width="1" height="1" fill="#000" />
<rect x="1579" y="750" width="1" height="1" fill="#000" />
<rect x="1579" y="559" width="1" height="1" fill="#000" />
<rect x="1579" y="652" width="1" height="1" fill="#000" />
<rect x="2" y="752" width="1" height="3" fill="#000" />
<text x="1" y="764" font-size="10" fill="#000" stroke="#000" stroke-width="0.18" text-anchor="start" textLength="50.5" lengthAdjust="spacingAndGlyphs" >6 May 2020</text>
<rect x="66" y="752" width="1" height="3" fill="#000" />
<text x="65" y="764" font-size="10" fill="#000" stroke="#000" stroke-width="0.18" text-anchor="start" textLength="54.5" lengthAdjust="spacingAndGlyphs" >25 May 2020</text>
<rect x="130" y="752" width="1" height="3" fill="#000" />
<text x="129" y="764" font-size="10" fill="#000" stroke="#000" stroke-width="0.18" text-anchor="start" textLength="49.5" lengthAdjust="spacingAndGlyphs" >12 Jun 2020</text>
<rect x="194" y="752" width="1" height="3" fill="#000" />
<text x="193" y="764" font-size="10" fill="#000" stroke="#000" stroke-width="0.18" text-anchor="start" textLength="41.5" lengthAdjust="spacingAndGlyphs" >1 Jul 2020</text>
<rect x="258" y="752" width="1" height="3" fill="#000" />
<text x="257" y="764" font-size="10" fill="#000" stroke="#000" stroke-width="0.18" text-anchor="start" textLength="46" lengthAdjust="spacingAndGlyphs" >20 Jul 2020</text>
<rect x="322" y="752" width="1" height="3" fill="#000" />
<text x="321" y="764" font-size="10" fill="#000" stroke="#000" stroke-width="0.18" text-anchor="start" textLength="47" lengthAdjust="spacingAndGlyphs" >7 Aug 2020</text>
<rect x="386" y="752" width="1" height="3" fill="#000" />
<text x="385" y="764" font-size="10" fill="#000" stroke="#000" stroke-width="0.18" text-anchor="start" textLength="52" lengthAdjust="spacingAndGlyphs" >26 Aug 2020</text>
<rect x="450" y="752" width="1" height="3" fill="#000" />
<text x="449" y="764" font-size="10" fill="#000" stroke="#000" stroke-width="0.18" text-anchor="start" textLength="51.5" lengthAdjust="spacingAndGlyphs" >14 Sep 2020</text>
<rect x="514" y="752" width="1" height="3" fill="#000" />
<text x="513" y="764" font-size="10" fill="#000" stroke="#000" stroke-width="0.18" text-anchor="start" textLength="46.5" lengthAdjust="spacingAndGlyphs" >2 Oct 2020</text>
<rect x="578" y="752" width="1" height="3" fill="#000" />
<text x="577" y="764" font-size="10" fill="#000" stroke="#000" stroke-width="0.18" text-anchor="start" textLength="51.5" lengthAdjust="spacingAndGlyphs" >21 Oct 2020</text>
<rect x="642" y="752" width="1" height="3" fill="#000" />
<text x="641" y="764" font-size="10" fill="#000" stroke="#000" stroke-width="0.18" text-anchor="start" textLength="48.5" lengthAdjust="spacingAndGlyphs" >9 Nov 2020</text>
<rect x="706" y="752" width="1" height="3" fill="#000" />
<text x="705" y="764" font-size="10" fill="#000" stroke="#000" stroke-width="0.18" text-anchor="start" textLength="54" lengthAdjust="spacingAndGlyphs" >27 Nov 2020</text>
<rect x="770" y="752" width="1" height="3" fill="#000" />
<text x="769" y="764" font-size="10" fill="#000" stroke="#000" stroke-width="0.18" text-anchor="start" textLength="51.5" lengthAdjust="spacingAndGlyphs" >16 Dec 2020</text>
<rect x="834" y="752" width="1" height="3" fill="#000" />
<text x="833" y="764" font-size="10" fill="#000" stroke="#000" stroke-width="0.18" text-anchor="start" textLength="44.5" lengthAdjust="spacingAndGlyphs" >5 Jan 2021</text>
<rect x="898" y="752" width="1" height="3" fill="#000" />
<text x="897" y="764" font-size="10" fill="#000" stroke="#000" stroke-width="0.18" text-anchor="start" textLength="49.5" lengthAdjust="spacingAndGlyphs" >23 Jan 2021</text>
<rect x="962" y="752" width="1" height="3" fill="#000" />
<text x="961" y="764" font-size="10" fill="#000" stroke="#000" stroke-width="0.18" text-anchor="start" textLength="51.5" lengthAdjust="spacingAndGlyphs" >11 Feb 2021</text>
<rect x="1026" y="752" width="1" height="3" fill="#000" />
<text x="1025" y="764" font-size="10" fill="#000" stroke="#000" stroke-width="0.18" text-anchor="start" textLength="46" lengthAdjust="spacingAndGlyphs" >2 Mar 2021</text>
<rect x="1090" y="752" width="1" height="3" fill="#000" />
<text x="1089" y="764" font-size="10" fill="#000" stroke="#000" stroke-width="0.18" text-anchor="start" textLength="52" lengthAdjust="spacingAndGlyphs" >20 Mar 2021</text>
<rect x="1154" y="752" width="1" height="3" fill="#000" />
<text x="1153" y="764" font-size="10" fill="#000" stroke="#000" stroke-width="0.18" text-anchor="start" textLength="45.5" lengthAdjust="spacingAndGlyphs" >8 Apr 2021</text>
<rect x="1218" y="752" width="1" height="3" fill="#000" />
<text x="1217" y="764" font-size="10" fill="#000" stroke="#000" stroke-width="0.18" text-anchor="start" textLength="50.5" lengthAdjust="spacingAndGlyphs" >27 Apr 2021</text>
<rect x="0" y="772" width="1622" height="1" fill="#e4e4e4" />
<rect x="0" y="773" width="1622" height="1" fill="#ffffff" />
<rect x="0" y="774" width="1622" height="1" fill="#000000" />
<rect x="0" y="775" width="1622" height="1" fill="#ffffff" />
<rect x="0" y="776" width="1622" height="21" fill="#f0f0f0" />
<rect x="0" y="794" width="1622" height="1" fill="#ffffff" />
<text x="15" y="789" font-size="12" fill="#707070" text-anchor="start" textLength="80" lengthAdjust="spacingAndGlyphs" >EURUSD,Daily</text>
<text x="117" y="789" font-size="12" fill="#707070" text-anchor="start" textLength="79" lengthAdjust="spacingAndGlyphs" >USDCHF,Daily</text>
<text x="218" y="789" font-size="12" fill="#707070" text-anchor="start" textLength="82" lengthAdjust="spacingAndGlyphs" >AUDUSD,Daily</text>
<text x="322" y="789" font-size="12" fill="#707070" text-anchor="start" textLength="81" lengthAdjust="spacingAndGlyphs" >USDCAD,Daily</text>
<text x="532" y="789" font-size="12" fill="#707070" text-anchor="start" textLength="79" lengthAdjust="spacingAndGlyphs" >EURUSD,Daily</text>
<text x="635" y="789" font-size="12" fill="#707070" text-anchor="start" textLength="80" lengthAdjust="spacingAndGlyphs" >GBPUSD,Daily</text>
<text x="738" y="789" font-size="12" fill="#707070" text-anchor="start" textLength="69" lengthAdjust="spacingAndGlyphs" >XAUUSD,H4</text>
<text x="831" y="789" font-size="12" fill="#707070" text-anchor="start" textLength="60" lengthAdjust="spacingAndGlyphs" >HK50,M15</text>
<text x="914" y="789" font-size="12" fill="#707070" text-anchor="start" textLength="57" lengthAdjust="spacingAndGlyphs" >UK100,H1</text>
<text x="994" y="789" font-size="12" fill="#707070" text-anchor="start" textLength="57" lengthAdjust="spacingAndGlyphs" >UK100,H1</text>
<text x="1074.3" y="789" font-size="12" fill="#707070" text-anchor="start" textLength="56.0" lengthAdjust="spacingAndGlyphs" >GER30,H1</text>
<text x="1153.6" y="789" font-size="12" fill="#707070" text-anchor="start" textLength="53.5" lengthAdjust="spacingAndGlyphs" >FRA40,H1</text>
<text x="1229" y="789" font-size="12" fill="#707070" text-anchor="start" textLength="50" lengthAdjust="spacingAndGlyphs" >USOil,H1</text>
<text x="1301" y="789" font-size="12" fill="#707070" text-anchor="start" textLength="62" lengthAdjust="spacingAndGlyphs" >USDJPY,H1</text>
<text x="1386.6" y="789" font-size="12" fill="#707070" text-anchor="start" textLength="72.20000000000005" lengthAdjust="spacingAndGlyphs" >DJ30,Weekly</text>
<text x="1481.3" y="789" font-size="12" fill="#707070" text-anchor="start" textLength="78.5" lengthAdjust="spacingAndGlyphs" >CHINA300,H1</text>
<text x="1581.5" y="789" font-size="12" fill="#707070" text-anchor="start" textLength="6.7000000000000455" lengthAdjust="spacingAndGlyphs" >U</text>
<rect x="107" y="777" width="1" height="14" fill="#606060" />
<rect x="207" y="777" width="1" height="14" fill="#606060" />
<rect x="311" y="777" width="1" height="14" fill="#606060" />
<rect x="623" y="777" width="1" height="14" fill="#606060" />
<rect x="727" y="777" width="1" height="14" fill="#606060" />
<rect x="819" y="777" width="1" height="14" fill="#606060" />
<rect x="903" y="777" width="1" height="14" fill="#606060" />
<rect x="983" y="777" width="1" height="14" fill="#606060" />
<rect x="1063" y="777" width="1" height="14" fill="#606060" />
<rect x="1143" y="777" width="1" height="14" fill="#606060" />
<rect x="1219" y="777" width="1" height="14" fill="#606060" />
<rect x="1291" y="777" width="1" height="14" fill="#606060" />
<rect x="1375" y="777" width="1" height="14" fill="#606060" />
<rect x="1471" y="777" width="1" height="14" fill="#606060" />
<rect x="1571" y="777" width="1" height="14" fill="#606060" />
<rect x="416" y="773" width="102" height="19" fill="#ffffff" />
<rect x="414" y="775" width="1" height="18" fill="#ffffff" />
<rect x="519" y="775" width="1" height="18" fill="#ffffff" />
<rect x="415" y="774" width="1" height="19" fill="#000" />
<rect x="518" y="774" width="1" height="19" fill="#000" />
<rect x="415" y="792" width="104" height="1" fill="#000" />
<text x="425.6" y="789" font-size="12" fill="#000" stroke="#000" stroke-width="0.18" text-anchor="start" textLength="82" lengthAdjust="spacingAndGlyphs" >USDCNH,Daily</text>
<path d="M1594 783.3 L1597.5 780 L1597.5 786.6 Z" fill="#9a9a9a"/>
<path d="M1616.6 783.3 L1612.8 779.6 L1612.8 787 Z" fill="#000"/>
</svg>
</body></html>
